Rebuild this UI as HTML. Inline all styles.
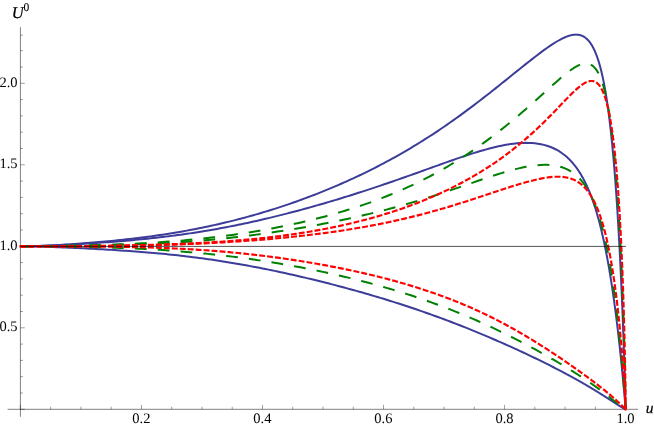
<!DOCTYPE html>
<html><head><meta charset="utf-8"><title>Plot</title>
<style>
html,body{margin:0;padding:0;background:#fff;}
body{width:654px;height:426px;overflow:hidden;}
svg{display:block;will-change:transform;}
text{font-family:"Liberation Serif",serif;fill:#000;}
</style></head><body>
<svg width="654" height="426" viewBox="0 0 654 426">
<rect width="654" height="426" fill="#fff"/>
<g stroke="#000" stroke-width="0.5" fill="none">
<path d="M7.6,409.3 H638.2 M20.4,27.2 V416.8"/>
</g>
<path d="M20.40,409.3 v-4.4 M50.66,409.3 v-2.6 M80.92,409.3 v-2.6 M111.18,409.3 v-2.6 M141.44,409.3 v-4.4 M171.70,409.3 v-2.6 M201.96,409.3 v-2.6 M232.22,409.3 v-2.6 M262.48,409.3 v-4.4 M292.74,409.3 v-2.6 M323.00,409.3 v-2.6 M353.26,409.3 v-2.6 M383.52,409.3 v-4.4 M413.78,409.3 v-2.6 M444.04,409.3 v-2.6 M474.30,409.3 v-2.6 M504.56,409.3 v-4.4 M534.82,409.3 v-2.6 M565.08,409.3 v-2.6 M595.34,409.3 v-2.6 M625.60,409.3 v-4.4 M20.4,409.30 h4.4 M20.4,393.00 h2.6 M20.4,376.70 h2.6 M20.4,360.40 h2.6 M20.4,344.10 h2.6 M20.4,327.80 h4.4 M20.4,311.50 h2.6 M20.4,295.20 h2.6 M20.4,278.90 h2.6 M20.4,262.60 h2.6 M20.4,246.30 h4.4 M20.4,230.00 h2.6 M20.4,213.70 h2.6 M20.4,197.40 h2.6 M20.4,181.10 h2.6 M20.4,164.80 h4.4 M20.4,148.50 h2.6 M20.4,132.20 h2.6 M20.4,115.90 h2.6 M20.4,99.60 h2.6 M20.4,83.30 h4.4 M20.4,67.00 h2.6 M20.4,50.70 h2.6 M20.4,35.20 h2.6" stroke="#000" stroke-width="0.38" fill="none"/>
<path d="M20.40,246.30 L23.43,246.29 L26.45,246.26 L29.48,246.21 L32.50,246.15 L35.53,246.07 L38.56,245.97 L41.58,245.87 L44.61,245.74 L47.63,245.61 L50.66,245.47 L53.69,245.32 L56.71,245.15 L59.74,244.98 L62.76,244.80 L65.79,244.61 L68.82,244.42 L71.84,244.21 L74.87,244.00 L77.89,243.79 L80.92,243.56 L83.95,243.33 L86.97,243.09 L90.00,242.84 L93.02,242.59 L96.05,242.33 L99.08,242.07 L102.10,241.80 L105.13,241.52 L108.15,241.23 L111.18,240.94 L114.21,240.63 L117.23,240.33 L120.26,240.01 L123.28,239.68 L126.31,239.35 L129.34,239.01 L132.36,238.66 L135.39,238.30 L138.41,237.93 L141.44,237.56 L144.47,237.17 L147.49,236.77 L150.52,236.37 L153.54,235.95 L156.57,235.52 L159.60,235.08 L162.62,234.64 L165.65,234.18 L168.67,233.70 L171.70,233.22 L174.73,232.73 L177.75,232.22 L180.78,231.70 L183.80,231.17 L186.83,230.62 L189.86,230.07 L192.88,229.50 L195.91,228.92 L198.93,228.32 L201.96,227.71 L204.99,227.09 L208.01,226.45 L211.04,225.80 L214.06,225.14 L217.09,224.46 L220.12,223.77 L223.14,223.06 L226.17,222.34 L229.19,221.61 L232.22,220.86 L235.25,220.10 L238.27,219.32 L241.30,218.53 L244.32,217.72 L247.35,216.90 L250.38,216.07 L253.40,215.22 L256.43,214.35 L259.45,213.47 L262.48,212.57 L265.51,211.66 L268.53,210.74 L271.56,209.80 L274.58,208.84 L277.61,207.87 L280.64,206.88 L283.66,205.88 L286.69,204.86 L289.71,203.83 L292.74,202.78 L295.77,201.71 L298.79,200.63 L301.82,199.54 L304.84,198.42 L307.87,197.30 L310.90,196.15 L313.92,194.99 L316.95,193.81 L319.97,192.62 L323.00,191.40 L326.03,190.18 L329.05,188.93 L332.08,187.67 L335.10,186.39 L338.13,185.09 L341.16,183.77 L344.18,182.44 L347.21,181.09 L350.23,179.71 L353.26,178.32 L356.29,176.92 L359.31,175.49 L362.34,174.04 L365.36,172.57 L368.39,171.09 L371.42,169.58 L374.44,168.05 L377.47,166.50 L380.49,164.93 L383.52,163.34 L386.55,161.73 L389.57,160.10 L392.60,158.44 L395.62,156.76 L398.65,155.06 L401.68,153.34 L404.70,151.59 L407.73,149.82 L410.75,148.03 L413.78,146.21 L416.81,144.37 L419.83,142.51 L422.86,140.62 L425.88,138.71 L428.91,136.77 L431.94,134.81 L434.96,132.83 L437.99,130.82 L441.01,128.78 L444.04,126.72 L447.07,124.64 L450.09,122.54 L453.12,120.41 L456.14,118.26 L459.17,116.08 L462.20,113.88 L465.22,111.66 L468.25,109.42 L471.27,107.16 L474.30,104.88 L477.33,102.57 L480.35,100.25 L483.38,97.91 L486.40,95.56 L489.43,93.18 L492.46,90.80 L495.48,88.40 L498.51,85.99 L501.53,83.57 L504.56,81.14 L507.59,78.70 L510.61,76.27 L513.64,73.83 L516.66,71.39 L519.69,68.96 L522.72,66.53 L525.74,64.12 L528.77,61.72 L531.79,59.34 L534.82,56.99 L537.85,54.67 L540.87,52.40 L543.90,50.17 L546.92,48.00 L549.95,45.91 L552.98,43.91 L556.00,42.01 L559.03,40.25 L562.05,38.65 L565.08,37.24 L565.38,37.12 L565.69,36.99 L565.99,36.87 L566.29,36.75 L566.59,36.63 L566.90,36.51 L567.20,36.40 L567.50,36.29 L567.80,36.18 L568.11,36.08 L568.41,35.98 L568.71,35.88 L569.01,35.79 L569.32,35.69 L569.62,35.60 L569.92,35.52 L570.22,35.44 L570.53,35.36 L570.83,35.28 L571.13,35.21 L571.43,35.14 L571.74,35.08 L572.04,35.02 L572.34,34.96 L572.64,34.91 L572.95,34.86 L573.25,34.82 L573.55,34.78 L573.86,34.74 L574.16,34.71 L574.46,34.68 L574.76,34.66 L575.07,34.64 L575.37,34.63 L575.67,34.62 L575.97,34.62 L576.28,34.62 L576.58,34.63 L576.88,34.64 L577.18,34.66 L577.49,34.68 L577.79,34.71 L578.09,34.75 L578.39,34.79 L578.70,34.84 L579.00,34.89 L579.30,34.95 L579.60,35.02 L579.91,35.09 L580.21,35.17 L580.51,35.26 L580.82,35.35 L581.12,35.45 L581.42,35.56 L581.72,35.68 L582.03,35.80 L582.33,35.93 L582.63,36.07 L582.93,36.22 L583.24,36.37 L583.54,36.54 L583.84,36.71 L584.14,36.90 L584.45,37.09 L584.75,37.29 L585.05,37.50 L585.35,37.72 L585.66,37.95 L585.96,38.19 L586.26,38.45 L586.56,38.71 L586.87,38.98 L587.17,39.27 L587.47,39.56 L587.77,39.87 L588.08,40.19 L588.38,40.52 L588.68,40.87 L588.99,41.23 L589.29,41.60 L589.59,41.98 L589.89,42.38 L590.20,42.79 L590.50,43.22 L590.80,43.66 L591.10,44.12 L591.41,44.59 L591.71,45.08 L592.01,45.58 L592.31,46.10 L592.62,46.64 L592.92,47.19 L593.22,47.76 L593.52,48.35 L593.83,48.96 L594.13,49.58 L594.43,50.23 L594.73,50.89 L595.04,51.58 L595.34,52.29 L595.64,53.01 L595.95,53.76 L596.25,54.53 L596.55,55.32 L596.85,56.14 L597.16,56.98 L597.46,57.84 L597.76,58.73 L598.06,59.65 L598.37,60.58 L598.67,61.55 L598.97,62.54 L599.27,63.56 L599.58,64.61 L599.88,65.69 L600.18,66.80 L600.48,67.93 L600.79,69.10 L601.09,70.30 L601.39,71.53 L601.69,72.80 L602.00,74.10 L602.30,75.43 L602.60,76.80 L602.91,78.21 L603.21,79.65 L603.51,81.13 L603.81,82.65 L604.12,84.21 L604.42,85.81 L604.72,87.45 L605.02,89.14 L605.33,90.86 L605.63,92.64 L605.93,94.46 L606.23,96.32 L606.54,98.24 L606.84,100.20 L607.14,102.21 L607.44,104.28 L607.75,106.39 L608.05,108.57 L608.35,110.79 L608.65,113.08 L608.96,115.42 L609.26,117.82 L609.56,120.28 L609.86,122.80 L610.17,125.39 L610.47,128.04 L610.77,130.76 L611.08,133.55 L611.38,136.41 L611.68,139.34 L611.98,142.34 L612.29,145.42 L612.59,148.58 L612.89,151.82 L613.19,155.14 L613.50,158.54 L613.53,158.89 L613.56,159.23 L613.59,159.58 L613.62,159.93 L613.65,160.28 L613.68,160.63 L613.71,160.98 L613.74,161.33 L613.77,161.68 L613.80,162.03 L613.83,162.39 L613.86,162.74 L613.89,163.10 L613.92,163.45 L613.95,163.81 L613.98,164.17 L614.01,164.53 L614.04,164.89 L614.07,165.25 L614.10,165.61 L614.13,165.97 L614.16,166.33 L614.19,166.70 L614.22,167.06 L614.25,167.43 L614.28,167.80 L614.31,168.17 L614.34,168.54 L614.37,168.91 L614.40,169.28 L614.43,169.65 L614.46,170.02 L614.49,170.39 L614.52,170.77 L614.56,171.14 L614.59,171.52 L614.62,171.90 L614.65,172.28 L614.68,172.66 L614.71,173.04 L614.74,173.42 L614.77,173.80 L614.80,174.18 L614.83,174.57 L614.86,174.95 L614.89,175.34 L614.92,175.73 L614.95,176.11 L614.98,176.50 L615.01,176.89 L615.04,177.28 L615.07,177.67 L615.10,178.07 L615.13,178.46 L615.16,178.86 L615.19,179.25 L615.22,179.65 L615.25,180.05 L615.28,180.45 L615.31,180.85 L615.34,181.25 L615.37,181.65 L615.40,182.05 L615.43,182.46 L615.46,182.86 L615.49,183.27 L615.52,183.67 L615.55,184.08 L615.58,184.49 L615.61,184.90 L615.64,185.31 L615.67,185.72 L615.70,186.14 L615.74,186.55 L615.77,186.97 L615.80,187.38 L615.83,187.80 L615.86,188.22 L615.89,188.64 L615.92,189.06 L615.95,189.48 L615.98,189.90 L616.01,190.32 L616.04,190.75 L616.07,191.18 L616.10,191.60 L616.13,192.03 L616.16,192.46 L616.19,192.89 L616.22,193.32 L616.25,193.75 L616.28,194.19 L616.31,194.62 L616.34,195.06 L616.37,195.49 L616.40,195.93 L616.43,196.37 L616.46,196.81 L616.49,197.25 L616.52,197.69 L616.55,198.14 L616.58,198.58 L616.61,199.03 L616.64,199.47 L616.67,199.92 L616.70,200.37 L616.73,200.82 L616.76,201.27 L616.79,201.72 L616.82,202.18 L616.85,202.63 L616.89,203.09 L616.92,203.55 L616.95,204.00 L616.98,204.46 L617.01,204.92 L617.04,205.39 L617.07,205.85 L617.10,206.31 L617.13,206.78 L617.16,207.24 L617.19,207.71 L617.22,208.18 L617.25,208.65 L617.28,209.12 L617.31,209.60 L617.34,210.07 L617.37,210.54 L617.40,211.02 L617.43,211.50 L617.46,211.98 L617.49,212.46 L617.52,212.94 L617.55,213.42 L617.58,213.90 L617.61,214.39 L617.64,214.87 L617.67,215.36 L617.70,215.85 L617.73,216.34 L617.76,216.83 L617.79,217.32 L617.82,217.82 L617.85,218.31 L617.88,218.81 L617.91,219.30 L617.94,219.80 L617.97,220.30 L618.00,220.80 L618.04,221.31 L618.07,221.81 L618.10,222.32 L618.13,222.82 L618.16,223.33 L618.19,223.84 L618.22,224.35 L618.25,224.86 L618.28,225.37 L618.31,225.89 L618.34,226.40 L618.37,226.92 L618.40,227.44 L618.43,227.96 L618.46,228.48 L618.49,229.00 L618.52,229.53 L618.55,230.05 L618.58,230.58 L618.61,231.11 L618.64,231.64 L618.67,232.17 L618.70,232.70 L618.73,233.23 L618.76,233.77 L618.79,234.30 L618.82,234.84 L618.85,235.38 L618.88,235.92 L618.91,236.46 L618.94,237.01 L618.97,237.55 L619.00,238.10 L619.03,238.64 L619.06,239.19 L619.09,239.74 L619.12,240.30 L619.15,240.85 L619.18,241.40 L619.22,241.96 L619.25,242.52 L619.28,243.08 L619.31,243.64 L619.34,244.20 L619.37,244.77 L619.40,245.33 L619.43,245.90 L619.46,246.47 L619.49,247.04 L619.52,247.61 L619.55,248.18 L619.58,248.75 L619.61,249.33 L619.64,249.91 L619.67,250.49 L619.70,251.07 L619.73,251.65 L619.76,252.23 L619.79,252.82 L619.82,253.40 L619.85,253.99 L619.88,254.58 L619.91,255.17 L619.94,255.77 L619.97,256.36 L620.00,256.96 L620.03,257.56 L620.06,258.16 L620.09,258.76 L620.12,259.36 L620.15,259.97 L620.18,260.57 L620.21,261.18 L620.24,261.79 L620.27,262.40 L620.30,263.01 L620.33,263.63 L620.37,264.24 L620.40,264.86 L620.43,265.48 L620.46,266.10 L620.49,266.72 L620.52,267.35 L620.55,267.98 L620.58,268.60 L620.61,269.23 L620.64,269.86 L620.67,270.50 L620.70,271.13 L620.73,271.77 L620.76,272.41 L620.79,273.05 L620.82,273.69 L620.85,274.34 L620.88,274.98 L620.91,275.63 L620.94,276.28 L620.97,276.93 L621.00,277.58 L621.03,278.24 L621.06,278.89 L621.09,279.55 L621.12,280.21 L621.15,280.87 L621.18,281.54 L621.21,282.20 L621.24,282.87 L621.27,283.54 L621.30,284.21 L621.33,284.89 L621.36,285.56 L621.39,286.24 L621.42,286.92 L621.45,287.60 L621.48,288.29 L621.51,288.97 L621.55,289.66 L621.58,290.35 L621.61,291.04 L621.64,291.73 L621.67,292.43 L621.70,293.13 L621.73,293.82 L621.76,294.53 L621.79,295.23 L621.82,295.94 L621.85,296.64 L621.88,297.35 L621.91,298.06 L621.94,298.78 L621.97,299.49 L622.00,300.21 L622.03,300.93 L622.06,301.66 L622.09,302.38 L622.12,303.11 L622.15,303.84 L622.18,304.57 L622.21,305.30 L622.24,306.04 L622.27,306.78 L622.30,307.52 L622.33,308.26 L622.36,309.00 L622.39,309.75 L622.42,310.50 L622.45,311.25 L622.48,312.01 L622.51,312.76 L622.54,313.52 L622.57,314.28 L622.60,315.05 L622.63,315.81 L622.66,316.58 L622.70,317.35 L622.73,318.12 L622.76,318.90 L622.79,319.68 L622.82,320.46 L622.85,321.24 L622.88,322.03 L622.91,322.82 L622.94,323.61 L622.97,324.40 L623.00,325.20 L623.03,325.99 L623.06,326.80 L623.09,327.60 L623.12,328.41 L623.15,329.22 L623.18,330.03 L623.21,330.84 L623.24,331.66 L623.27,332.48 L623.30,333.31 L623.33,334.13 L623.36,334.96 L623.39,335.79 L623.42,336.63 L623.45,337.47 L623.48,338.31 L623.51,339.15 L623.54,340.00 L623.57,340.85 L623.60,341.70 L623.63,342.56 L623.66,343.42 L623.69,344.28 L623.72,345.14 L623.75,346.01 L623.78,346.88 L623.81,347.76 L623.84,348.64 L623.88,349.52 L623.91,350.41 L623.94,351.30 L623.97,352.19 L624.00,353.09 L624.03,353.99 L624.06,354.89 L624.09,355.80 L624.12,356.71 L624.15,357.62 L624.18,358.54 L624.21,359.46 L624.24,360.39 L624.27,361.32 L624.30,362.26 L624.33,363.20 L624.36,364.14 L624.39,365.09 L624.42,366.04 L624.45,367.00 L624.48,367.96 L624.51,368.92 L624.54,369.89 L624.57,370.87 L624.60,371.85 L624.63,372.83 L624.66,373.82 L624.69,374.82 L624.72,375.82 L624.75,376.83 L624.78,377.84 L624.81,378.86 L624.84,379.89 L624.87,380.92 L624.90,381.96 L624.93,383.00 L624.96,384.05 L624.99,385.11 L625.03,386.18 L625.06,387.25 L625.09,388.34 L625.12,389.43 L625.15,390.53 L625.18,391.64 L625.21,392.76 L625.24,393.89 L625.27,395.04 L625.30,396.19 L625.33,397.37 L625.36,398.55 L625.39,399.76 L625.42,400.99 L625.45,402.23 L625.48,403.51 L625.51,404.83 L625.54,406.19 L625.57,407.63 L625.60,409.30" fill="none" stroke="#3d3d99" stroke-width="2.0"/>
<path d="M20.40,246.30 L23.43,246.29 L26.45,246.26 L29.48,246.22 L32.50,246.16 L35.53,246.09 L38.56,246.00 L41.58,245.91 L44.61,245.80 L47.63,245.69 L50.66,245.56 L53.69,245.43 L56.71,245.29 L59.74,245.15 L62.76,244.99 L65.79,244.84 L68.82,244.68 L71.84,244.51 L74.87,244.34 L77.89,244.16 L80.92,243.98 L83.95,243.79 L86.97,243.60 L90.00,243.40 L93.02,243.21 L96.05,243.00 L99.08,242.79 L102.10,242.58 L105.13,242.36 L108.15,242.14 L111.18,241.91 L114.21,241.67 L117.23,241.43 L120.26,241.19 L123.28,240.93 L126.31,240.68 L129.34,240.41 L132.36,240.14 L135.39,239.86 L138.41,239.57 L141.44,239.28 L144.47,238.98 L147.49,238.67 L150.52,238.35 L153.54,238.02 L156.57,237.69 L159.60,237.34 L162.62,236.99 L165.65,236.62 L168.67,236.25 L171.70,235.87 L174.73,235.48 L177.75,235.08 L180.78,234.66 L183.80,234.24 L186.83,233.81 L189.86,233.37 L192.88,232.91 L195.91,232.45 L198.93,231.97 L201.96,231.49 L204.99,230.99 L208.01,230.48 L211.04,229.97 L214.06,229.44 L217.09,228.90 L220.12,228.35 L223.14,227.79 L226.17,227.21 L229.19,226.63 L232.22,226.04 L235.25,225.43 L238.27,224.82 L241.30,224.19 L244.32,223.56 L247.35,222.91 L250.38,222.25 L253.40,221.59 L256.43,220.91 L259.45,220.22 L262.48,219.53 L265.51,218.82 L268.53,218.11 L271.56,217.38 L274.58,216.64 L277.61,215.90 L280.64,215.15 L283.66,214.38 L286.69,213.61 L289.71,212.83 L292.74,212.04 L295.77,211.24 L298.79,210.43 L301.82,209.62 L304.84,208.79 L307.87,207.96 L310.90,207.12 L313.92,206.27 L316.95,205.41 L319.97,204.54 L323.00,203.67 L326.03,202.79 L329.05,201.90 L332.08,201.00 L335.10,200.09 L338.13,199.18 L341.16,198.26 L344.18,197.33 L347.21,196.39 L350.23,195.44 L353.26,194.49 L356.29,193.53 L359.31,192.56 L362.34,191.59 L365.36,190.61 L368.39,189.62 L371.42,188.62 L374.44,187.62 L377.47,186.61 L380.49,185.59 L383.52,184.57 L386.55,183.54 L389.57,182.50 L392.60,181.46 L395.62,180.41 L398.65,179.36 L401.68,178.30 L404.70,177.23 L407.73,176.17 L410.75,175.09 L413.78,174.02 L416.81,172.94 L419.83,171.85 L422.86,170.77 L425.88,169.68 L428.91,168.59 L431.94,167.51 L434.96,166.42 L437.99,165.34 L441.01,164.26 L444.04,163.18 L447.07,162.10 L450.09,161.04 L453.12,159.98 L456.14,158.93 L459.17,157.89 L462.20,156.86 L465.22,155.85 L468.25,154.85 L471.27,153.87 L474.30,152.92 L477.33,151.98 L480.35,151.07 L483.38,150.19 L486.40,149.34 L489.43,148.52 L492.46,147.74 L495.48,147.00 L498.51,146.31 L501.53,145.67 L504.56,145.07 L507.59,144.54 L510.61,144.07 L513.64,143.66 L516.66,143.33 L519.69,143.08 L522.72,142.92 L525.74,142.85 L528.77,142.88 L531.79,143.01 L534.82,143.27 L537.85,143.66 L540.87,144.19 L543.90,144.88 L546.92,145.73 L549.95,146.77 L552.98,148.02 L556.00,149.49 L559.03,151.21 L562.05,153.21 L565.08,155.53 L565.38,155.78 L565.69,156.03 L565.99,156.29 L566.29,156.55 L566.59,156.81 L566.90,157.08 L567.20,157.35 L567.50,157.63 L567.80,157.91 L568.11,158.19 L568.41,158.48 L568.71,158.77 L569.01,159.07 L569.32,159.37 L569.62,159.67 L569.92,159.98 L570.22,160.29 L570.53,160.61 L570.83,160.93 L571.13,161.25 L571.43,161.58 L571.74,161.92 L572.04,162.25 L572.34,162.60 L572.64,162.95 L572.95,163.30 L573.25,163.66 L573.55,164.02 L573.86,164.39 L574.16,164.76 L574.46,165.14 L574.76,165.52 L575.07,165.91 L575.37,166.30 L575.67,166.70 L575.97,167.10 L576.28,167.51 L576.58,167.93 L576.88,168.35 L577.18,168.77 L577.49,169.20 L577.79,169.64 L578.09,170.08 L578.39,170.53 L578.70,170.99 L579.00,171.45 L579.30,171.92 L579.60,172.39 L579.91,172.87 L580.21,173.36 L580.51,173.86 L580.82,174.36 L581.12,174.86 L581.42,175.38 L581.72,175.90 L582.03,176.43 L582.33,176.96 L582.63,177.50 L582.93,178.05 L583.24,178.61 L583.54,179.18 L583.84,179.75 L584.14,180.33 L584.45,180.92 L584.75,181.51 L585.05,182.12 L585.35,182.73 L585.66,183.35 L585.96,183.98 L586.26,184.61 L586.56,185.26 L586.87,185.91 L587.17,186.58 L587.47,187.25 L587.77,187.93 L588.08,188.62 L588.38,189.32 L588.68,190.03 L588.99,190.75 L589.29,191.48 L589.59,192.22 L589.89,192.96 L590.20,193.72 L590.50,194.49 L590.80,195.27 L591.10,196.06 L591.41,196.86 L591.71,197.67 L592.01,198.49 L592.31,199.33 L592.62,200.17 L592.92,201.03 L593.22,201.90 L593.52,202.78 L593.83,203.67 L594.13,204.57 L594.43,205.49 L594.73,206.42 L595.04,207.36 L595.34,208.31 L595.64,209.28 L595.95,210.26 L596.25,211.25 L596.55,212.26 L596.85,213.28 L597.16,214.31 L597.46,215.36 L597.76,216.42 L598.06,217.50 L598.37,218.59 L598.67,219.70 L598.97,220.82 L599.27,221.95 L599.58,223.11 L599.88,224.27 L600.18,225.46 L600.48,226.66 L600.79,227.87 L601.09,229.10 L601.39,230.35 L601.69,231.62 L602.00,232.90 L602.30,234.20 L602.60,235.52 L602.91,236.85 L603.21,238.21 L603.51,239.58 L603.81,240.97 L604.12,242.38 L604.42,243.80 L604.72,245.25 L605.02,246.72 L605.33,248.20 L605.63,249.71 L605.93,251.24 L606.23,252.78 L606.54,254.35 L606.84,255.94 L607.14,257.55 L607.44,259.18 L607.75,260.83 L608.05,262.51 L608.35,264.20 L608.65,265.92 L608.96,267.67 L609.26,269.43 L609.56,271.22 L609.86,273.03 L610.17,274.87 L610.47,276.73 L610.77,278.62 L611.08,280.53 L611.38,282.46 L611.68,284.42 L611.98,286.41 L612.29,288.42 L612.59,290.46 L612.89,292.52 L613.19,294.62 L613.50,296.74 L613.53,296.95 L613.56,297.16 L613.59,297.38 L613.62,297.59 L613.65,297.81 L613.68,298.02 L613.71,298.24 L613.74,298.45 L613.77,298.67 L613.80,298.88 L613.83,299.10 L613.86,299.32 L613.89,299.53 L613.92,299.75 L613.95,299.97 L613.98,300.18 L614.01,300.40 L614.04,300.62 L614.07,300.84 L614.10,301.06 L614.13,301.28 L614.16,301.50 L614.19,301.72 L614.22,301.94 L614.25,302.16 L614.28,302.38 L614.31,302.60 L614.34,302.82 L614.37,303.04 L614.40,303.26 L614.43,303.48 L614.46,303.70 L614.49,303.93 L614.52,304.15 L614.56,304.37 L614.59,304.60 L614.62,304.82 L614.65,305.04 L614.68,305.27 L614.71,305.49 L614.74,305.72 L614.77,305.94 L614.80,306.17 L614.83,306.39 L614.86,306.62 L614.89,306.84 L614.92,307.07 L614.95,307.30 L614.98,307.52 L615.01,307.75 L615.04,307.98 L615.07,308.21 L615.10,308.44 L615.13,308.66 L615.16,308.89 L615.19,309.12 L615.22,309.35 L615.25,309.58 L615.28,309.81 L615.31,310.04 L615.34,310.27 L615.37,310.50 L615.40,310.73 L615.43,310.97 L615.46,311.20 L615.49,311.43 L615.52,311.66 L615.55,311.89 L615.58,312.13 L615.61,312.36 L615.64,312.59 L615.67,312.83 L615.70,313.06 L615.74,313.30 L615.77,313.53 L615.80,313.77 L615.83,314.00 L615.86,314.24 L615.89,314.47 L615.92,314.71 L615.95,314.95 L615.98,315.18 L616.01,315.42 L616.04,315.66 L616.07,315.90 L616.10,316.13 L616.13,316.37 L616.16,316.61 L616.19,316.85 L616.22,317.09 L616.25,317.33 L616.28,317.57 L616.31,317.81 L616.34,318.05 L616.37,318.29 L616.40,318.53 L616.43,318.77 L616.46,319.01 L616.49,319.26 L616.52,319.50 L616.55,319.74 L616.58,319.98 L616.61,320.23 L616.64,320.47 L616.67,320.72 L616.70,320.96 L616.73,321.20 L616.76,321.45 L616.79,321.69 L616.82,321.94 L616.85,322.19 L616.89,322.43 L616.92,322.68 L616.95,322.92 L616.98,323.17 L617.01,323.42 L617.04,323.67 L617.07,323.92 L617.10,324.16 L617.13,324.41 L617.16,324.66 L617.19,324.91 L617.22,325.16 L617.25,325.41 L617.28,325.66 L617.31,325.91 L617.34,326.16 L617.37,326.41 L617.40,326.66 L617.43,326.92 L617.46,327.17 L617.49,327.42 L617.52,327.67 L617.55,327.93 L617.58,328.18 L617.61,328.43 L617.64,328.69 L617.67,328.94 L617.70,329.20 L617.73,329.45 L617.76,329.71 L617.79,329.96 L617.82,330.22 L617.85,330.48 L617.88,330.73 L617.91,330.99 L617.94,331.25 L617.97,331.50 L618.00,331.76 L618.04,332.02 L618.07,332.28 L618.10,332.54 L618.13,332.80 L618.16,333.06 L618.19,333.32 L618.22,333.58 L618.25,333.84 L618.28,334.10 L618.31,334.36 L618.34,334.62 L618.37,334.88 L618.40,335.15 L618.43,335.41 L618.46,335.67 L618.49,335.93 L618.52,336.20 L618.55,336.46 L618.58,336.73 L618.61,336.99 L618.64,337.26 L618.67,337.52 L618.70,337.79 L618.73,338.05 L618.76,338.32 L618.79,338.59 L618.82,338.85 L618.85,339.12 L618.88,339.39 L618.91,339.66 L618.94,339.92 L618.97,340.19 L619.00,340.46 L619.03,340.73 L619.06,341.00 L619.09,341.27 L619.12,341.54 L619.15,341.81 L619.18,342.08 L619.22,342.36 L619.25,342.63 L619.28,342.90 L619.31,343.17 L619.34,343.44 L619.37,343.72 L619.40,343.99 L619.43,344.27 L619.46,344.54 L619.49,344.81 L619.52,345.09 L619.55,345.36 L619.58,345.64 L619.61,345.92 L619.64,346.19 L619.67,346.47 L619.70,346.75 L619.73,347.02 L619.76,347.30 L619.79,347.58 L619.82,347.86 L619.85,348.14 L619.88,348.42 L619.91,348.70 L619.94,348.98 L619.97,349.26 L620.00,349.54 L620.03,349.82 L620.06,350.10 L620.09,350.38 L620.12,350.66 L620.15,350.95 L620.18,351.23 L620.21,351.51 L620.24,351.80 L620.27,352.08 L620.30,352.36 L620.33,352.65 L620.37,352.93 L620.40,353.22 L620.43,353.51 L620.46,353.79 L620.49,354.08 L620.52,354.36 L620.55,354.65 L620.58,354.94 L620.61,355.23 L620.64,355.52 L620.67,355.80 L620.70,356.09 L620.73,356.38 L620.76,356.67 L620.79,356.96 L620.82,357.25 L620.85,357.55 L620.88,357.84 L620.91,358.13 L620.94,358.42 L620.97,358.71 L621.00,359.01 L621.03,359.30 L621.06,359.59 L621.09,359.89 L621.12,360.18 L621.15,360.48 L621.18,360.77 L621.21,361.07 L621.24,361.36 L621.27,361.66 L621.30,361.96 L621.33,362.25 L621.36,362.55 L621.39,362.85 L621.42,363.15 L621.45,363.45 L621.48,363.75 L621.51,364.05 L621.55,364.35 L621.58,364.65 L621.61,364.95 L621.64,365.25 L621.67,365.55 L621.70,365.85 L621.73,366.15 L621.76,366.46 L621.79,366.76 L621.82,367.06 L621.85,367.37 L621.88,367.67 L621.91,367.98 L621.94,368.28 L621.97,368.59 L622.00,368.90 L622.03,369.20 L622.06,369.51 L622.09,369.82 L622.12,370.12 L622.15,370.43 L622.18,370.74 L622.21,371.05 L622.24,371.36 L622.27,371.67 L622.30,371.98 L622.33,372.29 L622.36,372.60 L622.39,372.91 L622.42,373.23 L622.45,373.54 L622.48,373.85 L622.51,374.16 L622.54,374.48 L622.57,374.79 L622.60,375.11 L622.63,375.42 L622.66,375.74 L622.70,376.05 L622.73,376.37 L622.76,376.69 L622.79,377.00 L622.82,377.32 L622.85,377.64 L622.88,377.96 L622.91,378.28 L622.94,378.60 L622.97,378.92 L623.00,379.24 L623.03,379.56 L623.06,379.88 L623.09,380.20 L623.12,380.53 L623.15,380.85 L623.18,381.17 L623.21,381.50 L623.24,381.82 L623.27,382.15 L623.30,382.47 L623.33,382.80 L623.36,383.12 L623.39,383.45 L623.42,383.78 L623.45,384.11 L623.48,384.44 L623.51,384.76 L623.54,385.09 L623.57,385.42 L623.60,385.75 L623.63,386.09 L623.66,386.42 L623.69,386.75 L623.72,387.08 L623.75,387.42 L623.78,387.75 L623.81,388.08 L623.84,388.42 L623.88,388.75 L623.91,389.09 L623.94,389.43 L623.97,389.76 L624.00,390.10 L624.03,390.44 L624.06,390.78 L624.09,391.12 L624.12,391.46 L624.15,391.80 L624.18,392.14 L624.21,392.48 L624.24,392.83 L624.27,393.17 L624.30,393.51 L624.33,393.86 L624.36,394.20 L624.39,394.55 L624.42,394.90 L624.45,395.24 L624.48,395.59 L624.51,395.94 L624.54,396.29 L624.57,396.64 L624.60,396.99 L624.63,397.34 L624.66,397.70 L624.69,398.05 L624.72,398.40 L624.75,398.76 L624.78,399.12 L624.81,399.47 L624.84,399.83 L624.87,400.19 L624.90,400.55 L624.93,400.91 L624.96,401.27 L624.99,401.63 L625.03,402.00 L625.06,402.36 L625.09,402.73 L625.12,403.10 L625.15,403.47 L625.18,403.84 L625.21,404.21 L625.24,404.58 L625.27,404.96 L625.30,405.33 L625.33,405.71 L625.36,406.09 L625.39,406.48 L625.42,406.86 L625.45,407.25 L625.48,407.64 L625.51,408.04 L625.54,408.45 L625.57,408.86 L625.60,409.30" fill="none" stroke="#3d3d99" stroke-width="2.0"/>
<path d="M20.40,246.30 L23.43,246.31 L26.45,246.33 L29.48,246.37 L32.50,246.42 L35.53,246.48 L38.56,246.55 L41.58,246.63 L44.61,246.72 L47.63,246.82 L50.66,246.92 L53.69,247.03 L56.71,247.15 L59.74,247.27 L62.76,247.39 L65.79,247.52 L68.82,247.66 L71.84,247.79 L74.87,247.93 L77.89,248.08 L80.92,248.22 L83.95,248.37 L86.97,248.53 L90.00,248.68 L93.02,248.84 L96.05,249.01 L99.08,249.17 L102.10,249.34 L105.13,249.51 L108.15,249.69 L111.18,249.87 L114.21,250.06 L117.23,250.25 L120.26,250.44 L123.28,250.64 L126.31,250.85 L129.34,251.06 L132.36,251.27 L135.39,251.49 L138.41,251.72 L141.44,251.95 L144.47,252.20 L147.49,252.44 L150.52,252.70 L153.54,252.96 L156.57,253.23 L159.60,253.51 L162.62,253.80 L165.65,254.09 L168.67,254.39 L171.70,254.70 L174.73,255.02 L177.75,255.35 L180.78,255.69 L183.80,256.04 L186.83,256.39 L189.86,256.76 L192.88,257.14 L195.91,257.52 L198.93,257.92 L201.96,258.32 L204.99,258.73 L208.01,259.16 L211.04,259.59 L214.06,260.04 L217.09,260.49 L220.12,260.95 L223.14,261.42 L226.17,261.91 L229.19,262.40 L232.22,262.90 L235.25,263.41 L238.27,263.93 L241.30,264.46 L244.32,265.00 L247.35,265.55 L250.38,266.11 L253.40,266.68 L256.43,267.25 L259.45,267.84 L262.48,268.43 L265.51,269.03 L268.53,269.64 L271.56,270.26 L274.58,270.89 L277.61,271.53 L280.64,272.18 L283.66,272.83 L286.69,273.49 L289.71,274.16 L292.74,274.84 L295.77,275.52 L298.79,276.22 L301.82,276.92 L304.84,277.63 L307.87,278.35 L310.90,279.07 L313.92,279.80 L316.95,280.54 L319.97,281.29 L323.00,282.05 L326.03,282.81 L329.05,283.58 L332.08,284.36 L335.10,285.15 L338.13,285.94 L341.16,286.74 L344.18,287.55 L347.21,288.37 L350.23,289.20 L353.26,290.03 L356.29,290.87 L359.31,291.72 L362.34,292.58 L365.36,293.45 L368.39,294.32 L371.42,295.21 L374.44,296.10 L377.47,297.00 L380.49,297.91 L383.52,298.83 L386.55,299.76 L389.57,300.69 L392.60,301.64 L395.62,302.60 L398.65,303.56 L401.68,304.54 L404.70,305.53 L407.73,306.52 L410.75,307.53 L413.78,308.54 L416.81,309.57 L419.83,310.61 L422.86,311.65 L425.88,312.71 L428.91,313.78 L431.94,314.86 L434.96,315.95 L437.99,317.05 L441.01,318.16 L444.04,319.28 L447.07,320.41 L450.09,321.55 L453.12,322.71 L456.14,323.87 L459.17,325.05 L462.20,326.24 L465.22,327.44 L468.25,328.65 L471.27,329.87 L474.30,331.10 L477.33,332.34 L480.35,333.59 L483.38,334.85 L486.40,336.13 L489.43,337.41 L492.46,338.71 L495.48,340.01 L498.51,341.33 L501.53,342.66 L504.56,344.00 L507.59,345.35 L510.61,346.71 L513.64,348.08 L516.66,349.46 L519.69,350.85 L522.72,352.26 L525.74,353.67 L528.77,355.10 L531.79,356.54 L534.82,357.99 L537.85,359.46 L540.87,360.94 L543.90,362.43 L546.92,363.93 L549.95,365.45 L552.98,366.99 L556.00,368.54 L559.03,370.11 L562.05,371.69 L565.08,373.30 L565.38,373.46 L565.69,373.62 L565.99,373.78 L566.29,373.94 L566.59,374.11 L566.90,374.27 L567.20,374.43 L567.50,374.59 L567.80,374.76 L568.11,374.92 L568.41,375.08 L568.71,375.25 L569.01,375.41 L569.32,375.57 L569.62,375.74 L569.92,375.90 L570.22,376.07 L570.53,376.23 L570.83,376.40 L571.13,376.56 L571.43,376.73 L571.74,376.89 L572.04,377.06 L572.34,377.23 L572.64,377.39 L572.95,377.56 L573.25,377.72 L573.55,377.89 L573.86,378.06 L574.16,378.23 L574.46,378.39 L574.76,378.56 L575.07,378.73 L575.37,378.90 L575.67,379.07 L575.97,379.24 L576.28,379.40 L576.58,379.57 L576.88,379.74 L577.18,379.91 L577.49,380.08 L577.79,380.25 L578.09,380.42 L578.39,380.59 L578.70,380.76 L579.00,380.93 L579.30,381.11 L579.60,381.28 L579.91,381.45 L580.21,381.62 L580.51,381.79 L580.82,381.97 L581.12,382.14 L581.42,382.31 L581.72,382.48 L582.03,382.66 L582.33,382.83 L582.63,383.01 L582.93,383.18 L583.24,383.35 L583.54,383.53 L583.84,383.70 L584.14,383.88 L584.45,384.05 L584.75,384.23 L585.05,384.41 L585.35,384.58 L585.66,384.76 L585.96,384.94 L586.26,385.11 L586.56,385.29 L586.87,385.47 L587.17,385.64 L587.47,385.82 L587.77,386.00 L588.08,386.18 L588.38,386.36 L588.68,386.54 L588.99,386.72 L589.29,386.90 L589.59,387.08 L589.89,387.26 L590.20,387.44 L590.50,387.62 L590.80,387.80 L591.10,387.98 L591.41,388.16 L591.71,388.34 L592.01,388.52 L592.31,388.71 L592.62,388.89 L592.92,389.07 L593.22,389.25 L593.52,389.44 L593.83,389.62 L594.13,389.80 L594.43,389.99 L594.73,390.17 L595.04,390.36 L595.34,390.54 L595.64,390.73 L595.95,390.91 L596.25,391.10 L596.55,391.28 L596.85,391.47 L597.16,391.66 L597.46,391.84 L597.76,392.03 L598.06,392.22 L598.37,392.41 L598.67,392.59 L598.97,392.78 L599.27,392.97 L599.58,393.16 L599.88,393.35 L600.18,393.54 L600.48,393.72 L600.79,393.91 L601.09,394.10 L601.39,394.29 L601.69,394.48 L602.00,394.67 L602.30,394.86 L602.60,395.06 L602.91,395.25 L603.21,395.44 L603.51,395.63 L603.81,395.82 L604.12,396.01 L604.42,396.21 L604.72,396.40 L605.02,396.59 L605.33,396.78 L605.63,396.98 L605.93,397.17 L606.23,397.36 L606.54,397.56 L606.84,397.75 L607.14,397.95 L607.44,398.14 L607.75,398.33 L608.05,398.53 L608.35,398.72 L608.65,398.92 L608.96,399.11 L609.26,399.31 L609.56,399.50 L609.86,399.70 L610.17,399.89 L610.47,400.09 L610.77,400.28 L611.08,400.48 L611.38,400.68 L611.68,400.87 L611.98,401.07 L612.29,401.26 L612.59,401.46 L612.89,401.65 L613.19,401.85 L613.50,402.05 L613.53,402.07 L613.56,402.09 L613.59,402.11 L613.62,402.12 L613.65,402.14 L613.68,402.16 L613.71,402.18 L613.74,402.20 L613.77,402.22 L613.80,402.24 L613.83,402.26 L613.86,402.28 L613.89,402.30 L613.92,402.32 L613.95,402.34 L613.98,402.36 L614.01,402.38 L614.04,402.40 L614.07,402.42 L614.10,402.44 L614.13,402.46 L614.16,402.48 L614.19,402.50 L614.22,402.52 L614.25,402.54 L614.28,402.56 L614.31,402.57 L614.34,402.59 L614.37,402.61 L614.40,402.63 L614.43,402.65 L614.46,402.67 L614.49,402.69 L614.52,402.71 L614.56,402.73 L614.59,402.75 L614.62,402.77 L614.65,402.79 L614.68,402.81 L614.71,402.83 L614.74,402.85 L614.77,402.87 L614.80,402.89 L614.83,402.91 L614.86,402.93 L614.89,402.95 L614.92,402.97 L614.95,402.99 L614.98,403.00 L615.01,403.02 L615.04,403.04 L615.07,403.06 L615.10,403.08 L615.13,403.10 L615.16,403.12 L615.19,403.14 L615.22,403.16 L615.25,403.18 L615.28,403.20 L615.31,403.22 L615.34,403.24 L615.37,403.26 L615.40,403.28 L615.43,403.30 L615.46,403.32 L615.49,403.34 L615.52,403.36 L615.55,403.38 L615.58,403.39 L615.61,403.41 L615.64,403.43 L615.67,403.45 L615.70,403.47 L615.74,403.49 L615.77,403.51 L615.80,403.53 L615.83,403.55 L615.86,403.57 L615.89,403.59 L615.92,403.61 L615.95,403.63 L615.98,403.65 L616.01,403.67 L616.04,403.69 L616.07,403.71 L616.10,403.73 L616.13,403.75 L616.16,403.76 L616.19,403.78 L616.22,403.80 L616.25,403.82 L616.28,403.84 L616.31,403.86 L616.34,403.88 L616.37,403.90 L616.40,403.92 L616.43,403.94 L616.46,403.96 L616.49,403.98 L616.52,404.00 L616.55,404.02 L616.58,404.04 L616.61,404.06 L616.64,404.08 L616.67,404.10 L616.70,404.11 L616.73,404.13 L616.76,404.15 L616.79,404.17 L616.82,404.19 L616.85,404.21 L616.89,404.23 L616.92,404.25 L616.95,404.27 L616.98,404.29 L617.01,404.31 L617.04,404.33 L617.07,404.35 L617.10,404.37 L617.13,404.39 L617.16,404.40 L617.19,404.42 L617.22,404.44 L617.25,404.46 L617.28,404.48 L617.31,404.50 L617.34,404.52 L617.37,404.54 L617.40,404.56 L617.43,404.58 L617.46,404.60 L617.49,404.62 L617.52,404.64 L617.55,404.66 L617.58,404.68 L617.61,404.69 L617.64,404.71 L617.67,404.73 L617.70,404.75 L617.73,404.77 L617.76,404.79 L617.79,404.81 L617.82,404.83 L617.85,404.85 L617.88,404.87 L617.91,404.89 L617.94,404.91 L617.97,404.93 L618.00,404.95 L618.04,404.96 L618.07,404.98 L618.10,405.00 L618.13,405.02 L618.16,405.04 L618.19,405.06 L618.22,405.08 L618.25,405.10 L618.28,405.12 L618.31,405.14 L618.34,405.16 L618.37,405.18 L618.40,405.19 L618.43,405.21 L618.46,405.23 L618.49,405.25 L618.52,405.27 L618.55,405.29 L618.58,405.31 L618.61,405.33 L618.64,405.35 L618.67,405.37 L618.70,405.39 L618.73,405.41 L618.76,405.42 L618.79,405.44 L618.82,405.46 L618.85,405.48 L618.88,405.50 L618.91,405.52 L618.94,405.54 L618.97,405.56 L619.00,405.58 L619.03,405.60 L619.06,405.61 L619.09,405.63 L619.12,405.65 L619.15,405.67 L619.18,405.69 L619.22,405.71 L619.25,405.73 L619.28,405.75 L619.31,405.77 L619.34,405.79 L619.37,405.80 L619.40,405.82 L619.43,405.84 L619.46,405.86 L619.49,405.88 L619.52,405.90 L619.55,405.92 L619.58,405.94 L619.61,405.96 L619.64,405.98 L619.67,405.99 L619.70,406.01 L619.73,406.03 L619.76,406.05 L619.79,406.07 L619.82,406.09 L619.85,406.11 L619.88,406.13 L619.91,406.14 L619.94,406.16 L619.97,406.18 L620.00,406.20 L620.03,406.22 L620.06,406.24 L620.09,406.26 L620.12,406.28 L620.15,406.30 L620.18,406.31 L620.21,406.33 L620.24,406.35 L620.27,406.37 L620.30,406.39 L620.33,406.41 L620.37,406.43 L620.40,406.44 L620.43,406.46 L620.46,406.48 L620.49,406.50 L620.52,406.52 L620.55,406.54 L620.58,406.56 L620.61,406.58 L620.64,406.59 L620.67,406.61 L620.70,406.63 L620.73,406.65 L620.76,406.67 L620.79,406.69 L620.82,406.71 L620.85,406.72 L620.88,406.74 L620.91,406.76 L620.94,406.78 L620.97,406.80 L621.00,406.82 L621.03,406.83 L621.06,406.85 L621.09,406.87 L621.12,406.89 L621.15,406.91 L621.18,406.93 L621.21,406.94 L621.24,406.96 L621.27,406.98 L621.30,407.00 L621.33,407.02 L621.36,407.04 L621.39,407.05 L621.42,407.07 L621.45,407.09 L621.48,407.11 L621.51,407.13 L621.55,407.15 L621.58,407.16 L621.61,407.18 L621.64,407.20 L621.67,407.22 L621.70,407.24 L621.73,407.25 L621.76,407.27 L621.79,407.29 L621.82,407.31 L621.85,407.33 L621.88,407.35 L621.91,407.36 L621.94,407.38 L621.97,407.40 L622.00,407.42 L622.03,407.44 L622.06,407.45 L622.09,407.47 L622.12,407.49 L622.15,407.51 L622.18,407.52 L622.21,407.54 L622.24,407.56 L622.27,407.58 L622.30,407.60 L622.33,407.61 L622.36,407.63 L622.39,407.65 L622.42,407.67 L622.45,407.68 L622.48,407.70 L622.51,407.72 L622.54,407.74 L622.57,407.76 L622.60,407.77 L622.63,407.79 L622.66,407.81 L622.70,407.83 L622.73,407.84 L622.76,407.86 L622.79,407.88 L622.82,407.90 L622.85,407.91 L622.88,407.93 L622.91,407.95 L622.94,407.97 L622.97,407.98 L623.00,408.00 L623.03,408.02 L623.06,408.03 L623.09,408.05 L623.12,408.07 L623.15,408.09 L623.18,408.10 L623.21,408.12 L623.24,408.14 L623.27,408.15 L623.30,408.17 L623.33,408.19 L623.36,408.21 L623.39,408.22 L623.42,408.24 L623.45,408.26 L623.48,408.27 L623.51,408.29 L623.54,408.31 L623.57,408.32 L623.60,408.34 L623.63,408.36 L623.66,408.37 L623.69,408.39 L623.72,408.41 L623.75,408.42 L623.78,408.44 L623.81,408.46 L623.84,408.47 L623.88,408.49 L623.91,408.51 L623.94,408.52 L623.97,408.54 L624.00,408.55 L624.03,408.57 L624.06,408.59 L624.09,408.60 L624.12,408.62 L624.15,408.63 L624.18,408.65 L624.21,408.67 L624.24,408.68 L624.27,408.70 L624.30,408.71 L624.33,408.73 L624.36,408.74 L624.39,408.76 L624.42,408.78 L624.45,408.79 L624.48,408.81 L624.51,408.82 L624.54,408.84 L624.57,408.85 L624.60,408.87 L624.63,408.88 L624.66,408.90 L624.69,408.91 L624.72,408.93 L624.75,408.94 L624.78,408.96 L624.81,408.97 L624.84,408.99 L624.87,409.00 L624.90,409.02 L624.93,409.03 L624.96,409.04 L624.99,409.06 L625.03,409.07 L625.06,409.09 L625.09,409.10 L625.12,409.11 L625.15,409.13 L625.18,409.14 L625.21,409.15 L625.24,409.17 L625.27,409.18 L625.30,409.19 L625.33,409.20 L625.36,409.22 L625.39,409.23 L625.42,409.24 L625.45,409.25 L625.48,409.26 L625.51,409.27 L625.54,409.28 L625.57,409.29 L625.60,409.30" fill="none" stroke="#3d3d99" stroke-width="2.0"/>
<path d="M20.40,246.30 L23.43,246.30 L26.45,246.29 L29.48,246.28 L32.50,246.26 L35.53,246.24 L38.56,246.21 L41.58,246.19 L44.61,246.15 L47.63,246.12 L50.66,246.08 L53.69,246.04 L56.71,245.99 L59.74,245.95 L62.76,245.90 L65.79,245.85 L68.82,245.79 L71.84,245.73 L74.87,245.67 L77.89,245.61 L80.92,245.54 L83.95,245.47 L86.97,245.40 L90.00,245.32 L93.02,245.24 L96.05,245.16 L99.08,245.07 L102.10,244.98 L105.13,244.88 L108.15,244.78 L111.18,244.68 L114.21,244.57 L117.23,244.46 L120.26,244.34 L123.28,244.21 L126.31,244.08 L129.34,243.95 L132.36,243.81 L135.39,243.66 L138.41,243.51 L141.44,243.35 L144.47,243.19 L147.49,243.01 L150.52,242.84 L153.54,242.65 L156.57,242.46 L159.60,242.26 L162.62,242.05 L165.65,241.84 L168.67,241.61 L171.70,241.38 L174.73,241.14 L177.75,240.90 L180.78,240.64 L183.80,240.38 L186.83,240.11 L189.86,239.83 L192.88,239.54 L195.91,239.24 L198.93,238.93 L201.96,238.61 L204.99,238.29 L208.01,237.95 L211.04,237.60 L214.06,237.25 L217.09,236.88 L220.12,236.51 L223.14,236.12 L226.17,235.73 L229.19,235.32 L232.22,234.91 L235.25,234.48 L238.27,234.04 L241.30,233.60 L244.32,233.14 L247.35,232.67 L250.38,232.19 L253.40,231.70 L256.43,231.20 L259.45,230.68 L262.48,230.16 L265.51,229.62 L268.53,229.07 L271.56,228.51 L274.58,227.94 L277.61,227.35 L280.64,226.76 L283.66,226.15 L286.69,225.52 L289.71,224.89 L292.74,224.24 L295.77,223.58 L298.79,222.90 L301.82,222.21 L304.84,221.51 L307.87,220.79 L310.90,220.06 L313.92,219.32 L316.95,218.56 L319.97,217.78 L323.00,216.99 L326.03,216.18 L329.05,215.36 L332.08,214.52 L335.10,213.67 L338.13,212.79 L341.16,211.90 L344.18,211.00 L347.21,210.07 L350.23,209.13 L353.26,208.17 L356.29,207.19 L359.31,206.19 L362.34,205.17 L365.36,204.13 L368.39,203.07 L371.42,201.98 L374.44,200.88 L377.47,199.76 L380.49,198.61 L383.52,197.44 L386.55,196.25 L389.57,195.03 L392.60,193.79 L395.62,192.52 L398.65,191.23 L401.68,189.92 L404.70,188.58 L407.73,187.21 L410.75,185.81 L413.78,184.39 L416.81,182.94 L419.83,181.46 L422.86,179.95 L425.88,178.41 L428.91,176.85 L431.94,175.25 L434.96,173.62 L437.99,171.96 L441.01,170.27 L444.04,168.55 L447.07,166.80 L450.09,165.01 L453.12,163.19 L456.14,161.33 L459.17,159.45 L462.20,157.53 L465.22,155.57 L468.25,153.58 L471.27,151.55 L474.30,149.50 L477.33,147.40 L480.35,145.27 L483.38,143.11 L486.40,140.91 L489.43,138.67 L492.46,136.40 L495.48,134.10 L498.51,131.76 L501.53,129.39 L504.56,126.98 L507.59,124.54 L510.61,122.06 L513.64,119.56 L516.66,117.02 L519.69,114.45 L522.72,111.86 L525.74,109.23 L528.77,106.58 L531.79,103.91 L534.82,101.21 L537.85,98.50 L540.87,95.77 L543.90,93.03 L546.92,90.29 L549.95,87.56 L552.98,84.84 L556.00,82.14 L559.03,79.49 L562.05,76.90 L565.08,74.40 L565.38,74.15 L565.69,73.91 L565.99,73.67 L566.29,73.43 L566.59,73.19 L566.90,72.95 L567.20,72.72 L567.50,72.48 L567.80,72.25 L568.11,72.01 L568.41,71.78 L568.71,71.56 L569.01,71.33 L569.32,71.10 L569.62,70.88 L569.92,70.66 L570.22,70.44 L570.53,70.22 L570.83,70.00 L571.13,69.79 L571.43,69.58 L571.74,69.37 L572.04,69.16 L572.34,68.96 L572.64,68.75 L572.95,68.55 L573.25,68.36 L573.55,68.16 L573.86,67.97 L574.16,67.78 L574.46,67.59 L574.76,67.41 L575.07,67.23 L575.37,67.05 L575.67,66.87 L575.97,66.70 L576.28,66.53 L576.58,66.37 L576.88,66.20 L577.18,66.05 L577.49,65.89 L577.79,65.74 L578.09,65.59 L578.39,65.45 L578.70,65.31 L579.00,65.18 L579.30,65.05 L579.60,64.92 L579.91,64.80 L580.21,64.68 L580.51,64.57 L580.82,64.46 L581.12,64.36 L581.42,64.26 L581.72,64.17 L582.03,64.08 L582.33,64.00 L582.63,63.92 L582.93,63.85 L583.24,63.79 L583.54,63.73 L583.84,63.68 L584.14,63.64 L584.45,63.60 L584.75,63.57 L585.05,63.54 L585.35,63.52 L585.66,63.51 L585.96,63.51 L586.26,63.52 L586.56,63.53 L586.87,63.55 L587.17,63.58 L587.47,63.62 L587.77,63.67 L588.08,63.72 L588.38,63.79 L588.68,63.87 L588.99,63.95 L589.29,64.05 L589.59,64.15 L589.89,64.27 L590.20,64.39 L590.50,64.53 L590.80,64.68 L591.10,64.84 L591.41,65.01 L591.71,65.20 L592.01,65.40 L592.31,65.61 L592.62,65.83 L592.92,66.07 L593.22,66.32 L593.52,66.59 L593.83,66.87 L594.13,67.17 L594.43,67.48 L594.73,67.81 L595.04,68.15 L595.34,68.51 L595.64,68.89 L595.95,69.28 L596.25,69.70 L596.55,70.13 L596.85,70.58 L597.16,71.05 L597.46,71.54 L597.76,72.06 L598.06,72.59 L598.37,73.14 L598.67,73.72 L598.97,74.32 L599.27,74.94 L599.58,75.59 L599.88,76.26 L600.18,76.96 L600.48,77.68 L600.79,78.43 L601.09,79.21 L601.39,80.02 L601.69,80.85 L602.00,81.72 L602.30,82.61 L602.60,83.54 L602.91,84.50 L603.21,85.49 L603.51,86.51 L603.81,87.57 L604.12,88.67 L604.42,89.80 L604.72,90.97 L605.02,92.18 L605.33,93.43 L605.63,94.71 L605.93,96.05 L606.23,97.42 L606.54,98.84 L606.84,100.30 L607.14,101.81 L607.44,103.37 L607.75,104.98 L608.05,106.64 L608.35,108.35 L608.65,110.11 L608.96,111.93 L609.26,113.81 L609.56,115.74 L609.86,117.74 L610.17,119.80 L610.47,121.92 L610.77,124.10 L611.08,126.36 L611.38,128.68 L611.68,131.07 L611.98,133.54 L612.29,136.09 L612.59,138.71 L612.89,141.41 L613.19,144.20 L613.50,147.07 L613.53,147.36 L613.56,147.65 L613.59,147.95 L613.62,148.24 L613.65,148.54 L613.68,148.83 L613.71,149.13 L613.74,149.43 L613.77,149.73 L613.80,150.03 L613.83,150.33 L613.86,150.63 L613.89,150.94 L613.92,151.24 L613.95,151.54 L613.98,151.85 L614.01,152.16 L614.04,152.46 L614.07,152.77 L614.10,153.08 L614.13,153.39 L614.16,153.70 L614.19,154.01 L614.22,154.33 L614.25,154.64 L614.28,154.96 L614.31,155.27 L614.34,155.59 L614.37,155.91 L614.40,156.23 L614.43,156.55 L614.46,156.87 L614.49,157.19 L614.52,157.51 L614.56,157.84 L614.59,158.16 L614.62,158.49 L614.65,158.81 L614.68,159.14 L614.71,159.47 L614.74,159.80 L614.77,160.13 L614.80,160.46 L614.83,160.80 L614.86,161.13 L614.89,161.46 L614.92,161.80 L614.95,162.14 L614.98,162.47 L615.01,162.81 L615.04,163.15 L615.07,163.49 L615.10,163.84 L615.13,164.18 L615.16,164.52 L615.19,164.87 L615.22,165.22 L615.25,165.56 L615.28,165.91 L615.31,166.26 L615.34,166.61 L615.37,166.96 L615.40,167.32 L615.43,167.67 L615.46,168.03 L615.49,168.38 L615.52,168.74 L615.55,169.10 L615.58,169.46 L615.61,169.82 L615.64,170.18 L615.67,170.54 L615.70,170.90 L615.74,171.27 L615.77,171.64 L615.80,172.00 L615.83,172.37 L615.86,172.74 L615.89,173.11 L615.92,173.48 L615.95,173.86 L615.98,174.23 L616.01,174.61 L616.04,174.98 L616.07,175.36 L616.10,175.74 L616.13,176.12 L616.16,176.50 L616.19,176.88 L616.22,177.26 L616.25,177.65 L616.28,178.04 L616.31,178.42 L616.34,178.81 L616.37,179.20 L616.40,179.59 L616.43,179.98 L616.46,180.38 L616.49,180.77 L616.52,181.17 L616.55,181.56 L616.58,181.96 L616.61,182.36 L616.64,182.76 L616.67,183.16 L616.70,183.57 L616.73,183.97 L616.76,184.38 L616.79,184.78 L616.82,185.19 L616.85,185.60 L616.89,186.01 L616.92,186.42 L616.95,186.84 L616.98,187.25 L617.01,187.67 L617.04,188.08 L617.07,188.50 L617.10,188.92 L617.13,189.34 L617.16,189.77 L617.19,190.19 L617.22,190.62 L617.25,191.04 L617.28,191.47 L617.31,191.90 L617.34,192.33 L617.37,192.76 L617.40,193.20 L617.43,193.63 L617.46,194.07 L617.49,194.50 L617.52,194.94 L617.55,195.38 L617.58,195.82 L617.61,196.27 L617.64,196.71 L617.67,197.16 L617.70,197.61 L617.73,198.05 L617.76,198.50 L617.79,198.96 L617.82,199.41 L617.85,199.86 L617.88,200.32 L617.91,200.78 L617.94,201.24 L617.97,201.70 L618.00,202.16 L618.04,202.62 L618.07,203.09 L618.10,203.55 L618.13,204.02 L618.16,204.49 L618.19,204.96 L618.22,205.44 L618.25,205.91 L618.28,206.39 L618.31,206.86 L618.34,207.34 L618.37,207.82 L618.40,208.30 L618.43,208.79 L618.46,209.27 L618.49,209.76 L618.52,210.25 L618.55,210.74 L618.58,211.23 L618.61,211.72 L618.64,212.22 L618.67,212.71 L618.70,213.21 L618.73,213.71 L618.76,214.21 L618.79,214.71 L618.82,215.22 L618.85,215.72 L618.88,216.23 L618.91,216.74 L618.94,217.25 L618.97,217.77 L619.00,218.28 L619.03,218.80 L619.06,219.31 L619.09,219.83 L619.12,220.36 L619.15,220.88 L619.18,221.40 L619.22,221.93 L619.25,222.46 L619.28,222.99 L619.31,223.52 L619.34,224.06 L619.37,224.59 L619.40,225.13 L619.43,225.67 L619.46,226.21 L619.49,226.75 L619.52,227.30 L619.55,227.85 L619.58,228.39 L619.61,228.94 L619.64,229.50 L619.67,230.05 L619.70,230.61 L619.73,231.17 L619.76,231.73 L619.79,232.29 L619.82,232.85 L619.85,233.42 L619.88,233.98 L619.91,234.55 L619.94,235.13 L619.97,235.70 L620.00,236.28 L620.03,236.85 L620.06,237.43 L620.09,238.01 L620.12,238.60 L620.15,239.18 L620.18,239.77 L620.21,240.36 L620.24,240.95 L620.27,241.55 L620.30,242.14 L620.33,242.74 L620.37,243.34 L620.40,243.95 L620.43,244.55 L620.46,245.16 L620.49,245.77 L620.52,246.38 L620.55,246.99 L620.58,247.61 L620.61,248.22 L620.64,248.84 L620.67,249.47 L620.70,250.09 L620.73,250.72 L620.76,251.35 L620.79,251.98 L620.82,252.61 L620.85,253.25 L620.88,253.89 L620.91,254.53 L620.94,255.17 L620.97,255.82 L621.00,256.46 L621.03,257.11 L621.06,257.77 L621.09,258.42 L621.12,259.08 L621.15,259.74 L621.18,260.40 L621.21,261.07 L621.24,261.74 L621.27,262.41 L621.30,263.08 L621.33,263.75 L621.36,264.43 L621.39,265.11 L621.42,265.79 L621.45,266.48 L621.48,267.17 L621.51,267.86 L621.55,268.55 L621.58,269.25 L621.61,269.95 L621.64,270.65 L621.67,271.35 L621.70,272.06 L621.73,272.77 L621.76,273.49 L621.79,274.20 L621.82,274.92 L621.85,275.64 L621.88,276.37 L621.91,277.09 L621.94,277.82 L621.97,278.56 L622.00,279.29 L622.03,280.03 L622.06,280.77 L622.09,281.52 L622.12,282.27 L622.15,283.02 L622.18,283.77 L622.21,284.53 L622.24,285.29 L622.27,286.06 L622.30,286.82 L622.33,287.59 L622.36,288.37 L622.39,289.14 L622.42,289.93 L622.45,290.71 L622.48,291.50 L622.51,292.29 L622.54,293.08 L622.57,293.88 L622.60,294.68 L622.63,295.48 L622.66,296.29 L622.70,297.11 L622.73,297.92 L622.76,298.74 L622.79,299.56 L622.82,300.39 L622.85,301.22 L622.88,302.05 L622.91,302.89 L622.94,303.74 L622.97,304.58 L623.00,305.43 L623.03,306.29 L623.06,307.14 L623.09,308.01 L623.12,308.87 L623.15,309.74 L623.18,310.62 L623.21,311.50 L623.24,312.38 L623.27,313.27 L623.30,314.16 L623.33,315.06 L623.36,315.96 L623.39,316.87 L623.42,317.78 L623.45,318.69 L623.48,319.62 L623.51,320.54 L623.54,321.47 L623.57,322.41 L623.60,323.35 L623.63,324.29 L623.66,325.24 L623.69,326.20 L623.72,327.16 L623.75,328.13 L623.78,329.10 L623.81,330.08 L623.84,331.07 L623.88,332.06 L623.91,333.05 L623.94,334.05 L623.97,335.06 L624.00,336.08 L624.03,337.10 L624.06,338.12 L624.09,339.16 L624.12,340.20 L624.15,341.25 L624.18,342.30 L624.21,343.36 L624.24,344.43 L624.27,345.51 L624.30,346.59 L624.33,347.68 L624.36,348.78 L624.39,349.89 L624.42,351.01 L624.45,352.14 L624.48,353.27 L624.51,354.41 L624.54,355.56 L624.57,356.73 L624.60,357.90 L624.63,359.08 L624.66,360.27 L624.69,361.48 L624.72,362.69 L624.75,363.92 L624.78,365.16 L624.81,366.41 L624.84,367.67 L624.87,368.95 L624.90,370.24 L624.93,371.55 L624.96,372.87 L624.99,374.21 L625.03,375.57 L625.06,376.95 L625.09,378.34 L625.12,379.75 L625.15,381.19 L625.18,382.65 L625.21,384.14 L625.24,385.65 L625.27,387.20 L625.30,388.78 L625.33,390.39 L625.36,392.05 L625.39,393.76 L625.42,395.52 L625.45,397.35 L625.48,399.27 L625.51,401.30 L625.54,403.48 L625.57,405.93 L625.60,409.30" fill="none" stroke="#008000" stroke-width="2.0" stroke-dasharray="11.8 11.1"/>
<path d="M20.40,246.30 L23.43,246.30 L26.45,246.28 L29.48,246.26 L32.50,246.24 L35.53,246.21 L38.56,246.18 L41.58,246.14 L44.61,246.10 L47.63,246.06 L50.66,246.01 L53.69,245.97 L56.71,245.92 L59.74,245.87 L62.76,245.83 L65.79,245.78 L68.82,245.73 L71.84,245.68 L74.87,245.63 L77.89,245.58 L80.92,245.53 L83.95,245.48 L86.97,245.42 L90.00,245.37 L93.02,245.32 L96.05,245.26 L99.08,245.20 L102.10,245.14 L105.13,245.08 L108.15,245.02 L111.18,244.96 L114.21,244.89 L117.23,244.82 L120.26,244.74 L123.28,244.66 L126.31,244.58 L129.34,244.50 L132.36,244.40 L135.39,244.31 L138.41,244.21 L141.44,244.10 L144.47,243.99 L147.49,243.88 L150.52,243.75 L153.54,243.62 L156.57,243.49 L159.60,243.35 L162.62,243.20 L165.65,243.04 L168.67,242.88 L171.70,242.71 L174.73,242.53 L177.75,242.34 L180.78,242.15 L183.80,241.95 L186.83,241.74 L189.86,241.52 L192.88,241.30 L195.91,241.06 L198.93,240.82 L201.96,240.57 L204.99,240.31 L208.01,240.04 L211.04,239.77 L214.06,239.48 L217.09,239.19 L220.12,238.89 L223.14,238.58 L226.17,238.26 L229.19,237.93 L232.22,237.60 L235.25,237.26 L238.27,236.90 L241.30,236.54 L244.32,236.18 L247.35,235.80 L250.38,235.42 L253.40,235.02 L256.43,234.62 L259.45,234.21 L262.48,233.80 L265.51,233.37 L268.53,232.94 L271.56,232.50 L274.58,232.05 L277.61,231.60 L280.64,231.13 L283.66,230.66 L286.69,230.18 L289.71,229.70 L292.74,229.20 L295.77,228.70 L298.79,228.19 L301.82,227.67 L304.84,227.15 L307.87,226.61 L310.90,226.07 L313.92,225.52 L316.95,224.96 L319.97,224.40 L323.00,223.82 L326.03,223.24 L329.05,222.65 L332.08,222.05 L335.10,221.44 L338.13,220.82 L341.16,220.20 L344.18,219.56 L347.21,218.92 L350.23,218.26 L353.26,217.60 L356.29,216.92 L359.31,216.24 L362.34,215.54 L365.36,214.84 L368.39,214.12 L371.42,213.40 L374.44,212.66 L377.47,211.91 L380.49,211.15 L383.52,210.38 L386.55,209.60 L389.57,208.80 L392.60,208.00 L395.62,207.18 L398.65,206.35 L401.68,205.50 L404.70,204.65 L407.73,203.78 L410.75,202.90 L413.78,202.01 L416.81,201.10 L419.83,200.19 L422.86,199.26 L425.88,198.32 L428.91,197.37 L431.94,196.41 L434.96,195.43 L437.99,194.45 L441.01,193.46 L444.04,192.45 L447.07,191.44 L450.09,190.42 L453.12,189.40 L456.14,188.36 L459.17,187.33 L462.20,186.28 L465.22,185.24 L468.25,184.19 L471.27,183.15 L474.30,182.10 L477.33,181.06 L480.35,180.02 L483.38,178.99 L486.40,177.97 L489.43,176.96 L492.46,175.96 L495.48,174.98 L498.51,174.02 L501.53,173.08 L504.56,172.17 L507.59,171.29 L510.61,170.44 L513.64,169.63 L516.66,168.86 L519.69,168.14 L522.72,167.47 L525.74,166.85 L528.77,166.31 L531.79,165.83 L534.82,165.44 L537.85,165.13 L540.87,164.92 L543.90,164.81 L546.92,164.83 L549.95,164.98 L552.98,165.29 L556.00,165.76 L559.03,166.43 L562.05,167.31 L565.08,168.43 L565.38,168.56 L565.69,168.69 L565.99,168.83 L566.29,168.96 L566.59,169.10 L566.90,169.24 L567.20,169.39 L567.50,169.54 L567.80,169.69 L568.11,169.84 L568.41,170.00 L568.71,170.16 L569.01,170.33 L569.32,170.50 L569.62,170.67 L569.92,170.84 L570.22,171.02 L570.53,171.20 L570.83,171.39 L571.13,171.58 L571.43,171.77 L571.74,171.97 L572.04,172.17 L572.34,172.37 L572.64,172.58 L572.95,172.80 L573.25,173.01 L573.55,173.23 L573.86,173.46 L574.16,173.69 L574.46,173.92 L574.76,174.16 L575.07,174.40 L575.37,174.65 L575.67,174.90 L575.97,175.16 L576.28,175.42 L576.58,175.68 L576.88,175.96 L577.18,176.23 L577.49,176.51 L577.79,176.80 L578.09,177.09 L578.39,177.39 L578.70,177.69 L579.00,178.00 L579.30,178.31 L579.60,178.63 L579.91,178.95 L580.21,179.28 L580.51,179.62 L580.82,179.96 L581.12,180.31 L581.42,180.66 L581.72,181.02 L582.03,181.39 L582.33,181.76 L582.63,182.14 L582.93,182.53 L583.24,182.92 L583.54,183.32 L583.84,183.73 L584.14,184.14 L584.45,184.57 L584.75,185.00 L585.05,185.43 L585.35,185.88 L585.66,186.33 L585.96,186.79 L586.26,187.26 L586.56,187.73 L586.87,188.22 L587.17,188.71 L587.47,189.21 L587.77,189.72 L588.08,190.24 L588.38,190.77 L588.68,191.30 L588.99,191.85 L589.29,192.41 L589.59,192.97 L589.89,193.55 L590.20,194.13 L590.50,194.73 L590.80,195.33 L591.10,195.95 L591.41,196.57 L591.71,197.21 L592.01,197.86 L592.31,198.52 L592.62,199.19 L592.92,199.87 L593.22,200.56 L593.52,201.27 L593.83,201.98 L594.13,202.71 L594.43,203.45 L594.73,204.21 L595.04,204.98 L595.34,205.76 L595.64,206.55 L595.95,207.36 L596.25,208.18 L596.55,209.02 L596.85,209.87 L597.16,210.73 L597.46,211.61 L597.76,212.50 L598.06,213.41 L598.37,214.34 L598.67,215.28 L598.97,216.23 L599.27,217.21 L599.58,218.19 L599.88,219.20 L600.18,220.22 L600.48,221.26 L600.79,222.32 L601.09,223.40 L601.39,224.49 L601.69,225.61 L602.00,226.74 L602.30,227.89 L602.60,229.06 L602.91,230.25 L603.21,231.46 L603.51,232.69 L603.81,233.94 L604.12,235.22 L604.42,236.51 L604.72,237.83 L605.02,239.16 L605.33,240.53 L605.63,241.91 L605.93,243.32 L606.23,244.75 L606.54,246.20 L606.84,247.68 L607.14,249.19 L607.44,250.72 L607.75,252.28 L608.05,253.86 L608.35,255.47 L608.65,257.10 L608.96,258.76 L609.26,260.45 L609.56,262.17 L609.86,263.92 L610.17,265.70 L610.47,267.51 L610.77,269.34 L611.08,271.21 L611.38,273.11 L611.68,275.04 L611.98,277.00 L612.29,279.00 L612.59,281.03 L612.89,283.09 L613.19,285.19 L613.50,287.32 L613.53,287.53 L613.56,287.75 L613.59,287.96 L613.62,288.18 L613.65,288.40 L613.68,288.61 L613.71,288.83 L613.74,289.05 L613.77,289.27 L613.80,289.48 L613.83,289.70 L613.86,289.92 L613.89,290.14 L613.92,290.36 L613.95,290.58 L613.98,290.80 L614.01,291.02 L614.04,291.24 L614.07,291.46 L614.10,291.69 L614.13,291.91 L614.16,292.13 L614.19,292.35 L614.22,292.58 L614.25,292.80 L614.28,293.03 L614.31,293.25 L614.34,293.47 L614.37,293.70 L614.40,293.93 L614.43,294.15 L614.46,294.38 L614.49,294.60 L614.52,294.83 L614.56,295.06 L614.59,295.29 L614.62,295.51 L614.65,295.74 L614.68,295.97 L614.71,296.20 L614.74,296.43 L614.77,296.66 L614.80,296.89 L614.83,297.12 L614.86,297.35 L614.89,297.59 L614.92,297.82 L614.95,298.05 L614.98,298.28 L615.01,298.52 L615.04,298.75 L615.07,298.98 L615.10,299.22 L615.13,299.45 L615.16,299.69 L615.19,299.92 L615.22,300.16 L615.25,300.39 L615.28,300.63 L615.31,300.87 L615.34,301.10 L615.37,301.34 L615.40,301.58 L615.43,301.82 L615.46,302.06 L615.49,302.30 L615.52,302.54 L615.55,302.78 L615.58,303.02 L615.61,303.26 L615.64,303.50 L615.67,303.74 L615.70,303.98 L615.74,304.23 L615.77,304.47 L615.80,304.71 L615.83,304.95 L615.86,305.20 L615.89,305.44 L615.92,305.69 L615.95,305.93 L615.98,306.18 L616.01,306.43 L616.04,306.67 L616.07,306.92 L616.10,307.17 L616.13,307.41 L616.16,307.66 L616.19,307.91 L616.22,308.16 L616.25,308.41 L616.28,308.66 L616.31,308.91 L616.34,309.16 L616.37,309.41 L616.40,309.66 L616.43,309.91 L616.46,310.16 L616.49,310.42 L616.52,310.67 L616.55,310.92 L616.58,311.18 L616.61,311.43 L616.64,311.69 L616.67,311.94 L616.70,312.20 L616.73,312.45 L616.76,312.71 L616.79,312.96 L616.82,313.22 L616.85,313.48 L616.89,313.74 L616.92,314.00 L616.95,314.25 L616.98,314.51 L617.01,314.77 L617.04,315.03 L617.07,315.29 L617.10,315.55 L617.13,315.82 L617.16,316.08 L617.19,316.34 L617.22,316.60 L617.25,316.87 L617.28,317.13 L617.31,317.39 L617.34,317.66 L617.37,317.92 L617.40,318.19 L617.43,318.45 L617.46,318.72 L617.49,318.99 L617.52,319.25 L617.55,319.52 L617.58,319.79 L617.61,320.06 L617.64,320.33 L617.67,320.59 L617.70,320.86 L617.73,321.13 L617.76,321.40 L617.79,321.68 L617.82,321.95 L617.85,322.22 L617.88,322.49 L617.91,322.76 L617.94,323.04 L617.97,323.31 L618.00,323.58 L618.04,323.86 L618.07,324.13 L618.10,324.41 L618.13,324.68 L618.16,324.96 L618.19,325.24 L618.22,325.51 L618.25,325.79 L618.28,326.07 L618.31,326.35 L618.34,326.63 L618.37,326.91 L618.40,327.19 L618.43,327.47 L618.46,327.75 L618.49,328.03 L618.52,328.31 L618.55,328.59 L618.58,328.88 L618.61,329.16 L618.64,329.44 L618.67,329.73 L618.70,330.01 L618.73,330.30 L618.76,330.58 L618.79,330.87 L618.82,331.15 L618.85,331.44 L618.88,331.73 L618.91,332.02 L618.94,332.30 L618.97,332.59 L619.00,332.88 L619.03,333.17 L619.06,333.46 L619.09,333.75 L619.12,334.04 L619.15,334.33 L619.18,334.63 L619.22,334.92 L619.25,335.21 L619.28,335.51 L619.31,335.80 L619.34,336.09 L619.37,336.39 L619.40,336.68 L619.43,336.98 L619.46,337.28 L619.49,337.57 L619.52,337.87 L619.55,338.17 L619.58,338.47 L619.61,338.77 L619.64,339.06 L619.67,339.36 L619.70,339.66 L619.73,339.97 L619.76,340.27 L619.79,340.57 L619.82,340.87 L619.85,341.17 L619.88,341.48 L619.91,341.78 L619.94,342.08 L619.97,342.39 L620.00,342.69 L620.03,343.00 L620.06,343.31 L620.09,343.61 L620.12,343.92 L620.15,344.23 L620.18,344.54 L620.21,344.84 L620.24,345.15 L620.27,345.46 L620.30,345.77 L620.33,346.08 L620.37,346.40 L620.40,346.71 L620.43,347.02 L620.46,347.33 L620.49,347.65 L620.52,347.96 L620.55,348.27 L620.58,348.59 L620.61,348.90 L620.64,349.22 L620.67,349.54 L620.70,349.85 L620.73,350.17 L620.76,350.49 L620.79,350.81 L620.82,351.13 L620.85,351.45 L620.88,351.77 L620.91,352.09 L620.94,352.41 L620.97,352.73 L621.00,353.05 L621.03,353.37 L621.06,353.70 L621.09,354.02 L621.12,354.34 L621.15,354.67 L621.18,354.99 L621.21,355.32 L621.24,355.65 L621.27,355.97 L621.30,356.30 L621.33,356.63 L621.36,356.96 L621.39,357.29 L621.42,357.62 L621.45,357.95 L621.48,358.28 L621.51,358.61 L621.55,358.94 L621.58,359.27 L621.61,359.61 L621.64,359.94 L621.67,360.27 L621.70,360.61 L621.73,360.94 L621.76,361.28 L621.79,361.62 L621.82,361.95 L621.85,362.29 L621.88,362.63 L621.91,362.97 L621.94,363.31 L621.97,363.65 L622.00,363.99 L622.03,364.33 L622.06,364.67 L622.09,365.01 L622.12,365.35 L622.15,365.70 L622.18,366.04 L622.21,366.38 L622.24,366.73 L622.27,367.07 L622.30,367.42 L622.33,367.77 L622.36,368.11 L622.39,368.46 L622.42,368.81 L622.45,369.16 L622.48,369.51 L622.51,369.86 L622.54,370.21 L622.57,370.56 L622.60,370.91 L622.63,371.27 L622.66,371.62 L622.70,371.97 L622.73,372.33 L622.76,372.68 L622.79,373.04 L622.82,373.39 L622.85,373.75 L622.88,374.11 L622.91,374.47 L622.94,374.82 L622.97,375.18 L623.00,375.54 L623.03,375.90 L623.06,376.26 L623.09,376.63 L623.12,376.99 L623.15,377.35 L623.18,377.72 L623.21,378.08 L623.24,378.44 L623.27,378.81 L623.30,379.18 L623.33,379.54 L623.36,379.91 L623.39,380.28 L623.42,380.65 L623.45,381.02 L623.48,381.39 L623.51,381.76 L623.54,382.13 L623.57,382.50 L623.60,382.87 L623.63,383.25 L623.66,383.62 L623.69,384.00 L623.72,384.37 L623.75,384.75 L623.78,385.12 L623.81,385.50 L623.84,385.88 L623.88,386.26 L623.91,386.64 L623.94,387.02 L623.97,387.40 L624.00,387.78 L624.03,388.16 L624.06,388.55 L624.09,388.93 L624.12,389.31 L624.15,389.70 L624.18,390.09 L624.21,390.47 L624.24,390.86 L624.27,391.25 L624.30,391.64 L624.33,392.03 L624.36,392.42 L624.39,392.81 L624.42,393.20 L624.45,393.59 L624.48,393.99 L624.51,394.38 L624.54,394.78 L624.57,395.17 L624.60,395.57 L624.63,395.97 L624.66,396.37 L624.69,396.76 L624.72,397.17 L624.75,397.57 L624.78,397.97 L624.81,398.37 L624.84,398.78 L624.87,399.18 L624.90,399.59 L624.93,399.99 L624.96,400.40 L624.99,400.81 L625.03,401.22 L625.06,401.63 L625.09,402.04 L625.12,402.45 L625.15,402.87 L625.18,403.28 L625.21,403.70 L625.24,404.12 L625.27,404.54 L625.30,404.96 L625.33,405.38 L625.36,405.81 L625.39,406.23 L625.42,406.66 L625.45,407.09 L625.48,407.52 L625.51,407.96 L625.54,408.40 L625.57,408.84 L625.60,409.30" fill="none" stroke="#008000" stroke-width="2.0" stroke-dasharray="11.8 11.1"/>
<path d="M20.40,246.30 L23.43,246.30 L26.45,246.30 L29.48,246.31 L32.50,246.32 L35.53,246.33 L38.56,246.34 L41.58,246.36 L44.61,246.37 L47.63,246.39 L50.66,246.42 L53.69,246.44 L56.71,246.47 L59.74,246.50 L62.76,246.53 L65.79,246.57 L68.82,246.61 L71.84,246.65 L74.87,246.70 L77.89,246.75 L80.92,246.80 L83.95,246.86 L86.97,246.92 L90.00,246.98 L93.02,247.05 L96.05,247.13 L99.08,247.20 L102.10,247.29 L105.13,247.37 L108.15,247.46 L111.18,247.56 L114.21,247.66 L117.23,247.77 L120.26,247.88 L123.28,248.00 L126.31,248.12 L129.34,248.25 L132.36,248.38 L135.39,248.52 L138.41,248.66 L141.44,248.82 L144.47,248.97 L147.49,249.14 L150.52,249.31 L153.54,249.49 L156.57,249.67 L159.60,249.86 L162.62,250.06 L165.65,250.26 L168.67,250.47 L171.70,250.69 L174.73,250.91 L177.75,251.15 L180.78,251.39 L183.80,251.63 L186.83,251.89 L189.86,252.15 L192.88,252.42 L195.91,252.69 L198.93,252.98 L201.96,253.27 L204.99,253.57 L208.01,253.88 L211.04,254.20 L214.06,254.52 L217.09,254.85 L220.12,255.19 L223.14,255.54 L226.17,255.90 L229.19,256.26 L232.22,256.63 L235.25,257.01 L238.27,257.40 L241.30,257.80 L244.32,258.21 L247.35,258.62 L250.38,259.05 L253.40,259.48 L256.43,259.92 L259.45,260.37 L262.48,260.83 L265.51,261.29 L268.53,261.77 L271.56,262.25 L274.58,262.74 L277.61,263.25 L280.64,263.76 L283.66,264.28 L286.69,264.81 L289.71,265.34 L292.74,265.89 L295.77,266.45 L298.79,267.01 L301.82,267.59 L304.84,268.17 L307.87,268.77 L310.90,269.37 L313.92,269.99 L316.95,270.61 L319.97,271.24 L323.00,271.89 L326.03,272.54 L329.05,273.20 L332.08,273.87 L335.10,274.56 L338.13,275.25 L341.16,275.96 L344.18,276.67 L347.21,277.40 L350.23,278.13 L353.26,278.88 L356.29,279.64 L359.31,280.41 L362.34,281.19 L365.36,281.98 L368.39,282.78 L371.42,283.60 L374.44,284.42 L377.47,285.26 L380.49,286.11 L383.52,286.98 L386.55,287.85 L389.57,288.74 L392.60,289.64 L395.62,290.55 L398.65,291.48 L401.68,292.42 L404.70,293.37 L407.73,294.34 L410.75,295.32 L413.78,296.32 L416.81,297.33 L419.83,298.35 L422.86,299.39 L425.88,300.44 L428.91,301.51 L431.94,302.59 L434.96,303.69 L437.99,304.81 L441.01,305.94 L444.04,307.08 L447.07,308.24 L450.09,309.42 L453.12,310.61 L456.14,311.82 L459.17,313.05 L462.20,314.29 L465.22,315.55 L468.25,316.83 L471.27,318.13 L474.30,319.44 L477.33,320.77 L480.35,322.11 L483.38,323.47 L486.40,324.85 L489.43,326.25 L492.46,327.67 L495.48,329.10 L498.51,330.55 L501.53,332.01 L504.56,333.50 L507.59,335.00 L510.61,336.51 L513.64,338.05 L516.66,339.59 L519.69,341.16 L522.72,342.74 L525.74,344.34 L528.77,345.95 L531.79,347.59 L534.82,349.23 L537.85,350.89 L540.87,352.57 L543.90,354.27 L546.92,355.98 L549.95,357.70 L552.98,359.45 L556.00,361.21 L559.03,362.99 L562.05,364.79 L565.08,366.61 L565.38,366.80 L565.69,366.98 L565.99,367.17 L566.29,367.35 L566.59,367.53 L566.90,367.72 L567.20,367.90 L567.50,368.09 L567.80,368.27 L568.11,368.46 L568.41,368.64 L568.71,368.83 L569.01,369.02 L569.32,369.20 L569.62,369.39 L569.92,369.58 L570.22,369.76 L570.53,369.95 L570.83,370.14 L571.13,370.33 L571.43,370.51 L571.74,370.70 L572.04,370.89 L572.34,371.08 L572.64,371.27 L572.95,371.46 L573.25,371.65 L573.55,371.84 L573.86,372.03 L574.16,372.22 L574.46,372.41 L574.76,372.60 L575.07,372.79 L575.37,372.98 L575.67,373.18 L575.97,373.37 L576.28,373.56 L576.58,373.75 L576.88,373.95 L577.18,374.14 L577.49,374.33 L577.79,374.53 L578.09,374.72 L578.39,374.92 L578.70,375.11 L579.00,375.31 L579.30,375.50 L579.60,375.70 L579.91,375.90 L580.21,376.09 L580.51,376.29 L580.82,376.49 L581.12,376.68 L581.42,376.88 L581.72,377.08 L582.03,377.28 L582.33,377.48 L582.63,377.68 L582.93,377.88 L583.24,378.08 L583.54,378.28 L583.84,378.48 L584.14,378.68 L584.45,378.88 L584.75,379.08 L585.05,379.29 L585.35,379.49 L585.66,379.69 L585.96,379.90 L586.26,380.10 L586.56,380.30 L586.87,380.51 L587.17,380.71 L587.47,380.92 L587.77,381.13 L588.08,381.33 L588.38,381.54 L588.68,381.75 L588.99,381.95 L589.29,382.16 L589.59,382.37 L589.89,382.58 L590.20,382.79 L590.50,383.00 L590.80,383.21 L591.10,383.42 L591.41,383.63 L591.71,383.84 L592.01,384.05 L592.31,384.27 L592.62,384.48 L592.92,384.69 L593.22,384.91 L593.52,385.12 L593.83,385.34 L594.13,385.55 L594.43,385.77 L594.73,385.98 L595.04,386.20 L595.34,386.42 L595.64,386.64 L595.95,386.86 L596.25,387.07 L596.55,387.29 L596.85,387.51 L597.16,387.73 L597.46,387.95 L597.76,388.18 L598.06,388.40 L598.37,388.62 L598.67,388.84 L598.97,389.07 L599.27,389.29 L599.58,389.51 L599.88,389.74 L600.18,389.97 L600.48,390.19 L600.79,390.42 L601.09,390.65 L601.39,390.87 L601.69,391.10 L602.00,391.33 L602.30,391.56 L602.60,391.79 L602.91,392.02 L603.21,392.25 L603.51,392.48 L603.81,392.71 L604.12,392.95 L604.42,393.18 L604.72,393.41 L605.02,393.65 L605.33,393.88 L605.63,394.12 L605.93,394.35 L606.23,394.59 L606.54,394.82 L606.84,395.06 L607.14,395.30 L607.44,395.54 L607.75,395.78 L608.05,396.01 L608.35,396.25 L608.65,396.49 L608.96,396.73 L609.26,396.97 L609.56,397.22 L609.86,397.46 L610.17,397.70 L610.47,397.94 L610.77,398.18 L611.08,398.43 L611.38,398.67 L611.68,398.91 L611.98,399.16 L612.29,399.40 L612.59,399.65 L612.89,399.89 L613.19,400.14 L613.50,400.38 L613.53,400.41 L613.56,400.43 L613.59,400.46 L613.62,400.48 L613.65,400.50 L613.68,400.53 L613.71,400.55 L613.74,400.58 L613.77,400.60 L613.80,400.63 L613.83,400.65 L613.86,400.68 L613.89,400.70 L613.92,400.72 L613.95,400.75 L613.98,400.77 L614.01,400.80 L614.04,400.82 L614.07,400.85 L614.10,400.87 L614.13,400.90 L614.16,400.92 L614.19,400.95 L614.22,400.97 L614.25,400.99 L614.28,401.02 L614.31,401.04 L614.34,401.07 L614.37,401.09 L614.40,401.12 L614.43,401.14 L614.46,401.17 L614.49,401.19 L614.52,401.22 L614.56,401.24 L614.59,401.26 L614.62,401.29 L614.65,401.31 L614.68,401.34 L614.71,401.36 L614.74,401.39 L614.77,401.41 L614.80,401.44 L614.83,401.46 L614.86,401.49 L614.89,401.51 L614.92,401.53 L614.95,401.56 L614.98,401.58 L615.01,401.61 L615.04,401.63 L615.07,401.66 L615.10,401.68 L615.13,401.71 L615.16,401.73 L615.19,401.76 L615.22,401.78 L615.25,401.80 L615.28,401.83 L615.31,401.85 L615.34,401.88 L615.37,401.90 L615.40,401.93 L615.43,401.95 L615.46,401.98 L615.49,402.00 L615.52,402.03 L615.55,402.05 L615.58,402.07 L615.61,402.10 L615.64,402.12 L615.67,402.15 L615.70,402.17 L615.74,402.20 L615.77,402.22 L615.80,402.25 L615.83,402.27 L615.86,402.30 L615.89,402.32 L615.92,402.34 L615.95,402.37 L615.98,402.39 L616.01,402.42 L616.04,402.44 L616.07,402.47 L616.10,402.49 L616.13,402.52 L616.16,402.54 L616.19,402.56 L616.22,402.59 L616.25,402.61 L616.28,402.64 L616.31,402.66 L616.34,402.69 L616.37,402.71 L616.40,402.74 L616.43,402.76 L616.46,402.79 L616.49,402.81 L616.52,402.83 L616.55,402.86 L616.58,402.88 L616.61,402.91 L616.64,402.93 L616.67,402.96 L616.70,402.98 L616.73,403.01 L616.76,403.03 L616.79,403.05 L616.82,403.08 L616.85,403.10 L616.89,403.13 L616.92,403.15 L616.95,403.18 L616.98,403.20 L617.01,403.22 L617.04,403.25 L617.07,403.27 L617.10,403.30 L617.13,403.32 L617.16,403.35 L617.19,403.37 L617.22,403.40 L617.25,403.42 L617.28,403.44 L617.31,403.47 L617.34,403.49 L617.37,403.52 L617.40,403.54 L617.43,403.57 L617.46,403.59 L617.49,403.61 L617.52,403.64 L617.55,403.66 L617.58,403.69 L617.61,403.71 L617.64,403.74 L617.67,403.76 L617.70,403.78 L617.73,403.81 L617.76,403.83 L617.79,403.86 L617.82,403.88 L617.85,403.91 L617.88,403.93 L617.91,403.95 L617.94,403.98 L617.97,404.00 L618.00,404.03 L618.04,404.05 L618.07,404.08 L618.10,404.10 L618.13,404.12 L618.16,404.15 L618.19,404.17 L618.22,404.20 L618.25,404.22 L618.28,404.25 L618.31,404.27 L618.34,404.29 L618.37,404.32 L618.40,404.34 L618.43,404.37 L618.46,404.39 L618.49,404.41 L618.52,404.44 L618.55,404.46 L618.58,404.49 L618.61,404.51 L618.64,404.53 L618.67,404.56 L618.70,404.58 L618.73,404.61 L618.76,404.63 L618.79,404.65 L618.82,404.68 L618.85,404.70 L618.88,404.73 L618.91,404.75 L618.94,404.77 L618.97,404.80 L619.00,404.82 L619.03,404.85 L619.06,404.87 L619.09,404.89 L619.12,404.92 L619.15,404.94 L619.18,404.97 L619.22,404.99 L619.25,405.01 L619.28,405.04 L619.31,405.06 L619.34,405.09 L619.37,405.11 L619.40,405.13 L619.43,405.16 L619.46,405.18 L619.49,405.20 L619.52,405.23 L619.55,405.25 L619.58,405.28 L619.61,405.30 L619.64,405.32 L619.67,405.35 L619.70,405.37 L619.73,405.39 L619.76,405.42 L619.79,405.44 L619.82,405.47 L619.85,405.49 L619.88,405.51 L619.91,405.54 L619.94,405.56 L619.97,405.58 L620.00,405.61 L620.03,405.63 L620.06,405.65 L620.09,405.68 L620.12,405.70 L620.15,405.72 L620.18,405.75 L620.21,405.77 L620.24,405.79 L620.27,405.82 L620.30,405.84 L620.33,405.87 L620.37,405.89 L620.40,405.91 L620.43,405.94 L620.46,405.96 L620.49,405.98 L620.52,406.01 L620.55,406.03 L620.58,406.05 L620.61,406.07 L620.64,406.10 L620.67,406.12 L620.70,406.14 L620.73,406.17 L620.76,406.19 L620.79,406.21 L620.82,406.24 L620.85,406.26 L620.88,406.28 L620.91,406.31 L620.94,406.33 L620.97,406.35 L621.00,406.38 L621.03,406.40 L621.06,406.42 L621.09,406.44 L621.12,406.47 L621.15,406.49 L621.18,406.51 L621.21,406.54 L621.24,406.56 L621.27,406.58 L621.30,406.60 L621.33,406.63 L621.36,406.65 L621.39,406.67 L621.42,406.69 L621.45,406.72 L621.48,406.74 L621.51,406.76 L621.55,406.78 L621.58,406.81 L621.61,406.83 L621.64,406.85 L621.67,406.87 L621.70,406.90 L621.73,406.92 L621.76,406.94 L621.79,406.96 L621.82,406.99 L621.85,407.01 L621.88,407.03 L621.91,407.05 L621.94,407.08 L621.97,407.10 L622.00,407.12 L622.03,407.14 L622.06,407.16 L622.09,407.19 L622.12,407.21 L622.15,407.23 L622.18,407.25 L622.21,407.27 L622.24,407.30 L622.27,407.32 L622.30,407.34 L622.33,407.36 L622.36,407.38 L622.39,407.40 L622.42,407.43 L622.45,407.45 L622.48,407.47 L622.51,407.49 L622.54,407.51 L622.57,407.53 L622.60,407.56 L622.63,407.58 L622.66,407.60 L622.70,407.62 L622.73,407.64 L622.76,407.66 L622.79,407.68 L622.82,407.70 L622.85,407.73 L622.88,407.75 L622.91,407.77 L622.94,407.79 L622.97,407.81 L623.00,407.83 L623.03,407.85 L623.06,407.87 L623.09,407.89 L623.12,407.91 L623.15,407.93 L623.18,407.96 L623.21,407.98 L623.24,408.00 L623.27,408.02 L623.30,408.04 L623.33,408.06 L623.36,408.08 L623.39,408.10 L623.42,408.12 L623.45,408.14 L623.48,408.16 L623.51,408.18 L623.54,408.20 L623.57,408.22 L623.60,408.24 L623.63,408.26 L623.66,408.28 L623.69,408.30 L623.72,408.32 L623.75,408.34 L623.78,408.36 L623.81,408.38 L623.84,408.39 L623.88,408.41 L623.91,408.43 L623.94,408.45 L623.97,408.47 L624.00,408.49 L624.03,408.51 L624.06,408.53 L624.09,408.55 L624.12,408.56 L624.15,408.58 L624.18,408.60 L624.21,408.62 L624.24,408.64 L624.27,408.66 L624.30,408.67 L624.33,408.69 L624.36,408.71 L624.39,408.73 L624.42,408.75 L624.45,408.76 L624.48,408.78 L624.51,408.80 L624.54,408.82 L624.57,408.83 L624.60,408.85 L624.63,408.87 L624.66,408.88 L624.69,408.90 L624.72,408.92 L624.75,408.93 L624.78,408.95 L624.81,408.97 L624.84,408.98 L624.87,409.00 L624.90,409.01 L624.93,409.03 L624.96,409.04 L624.99,409.06 L625.03,409.07 L625.06,409.09 L625.09,409.10 L625.12,409.12 L625.15,409.13 L625.18,409.15 L625.21,409.16 L625.24,409.17 L625.27,409.19 L625.30,409.20 L625.33,409.21 L625.36,409.22 L625.39,409.24 L625.42,409.25 L625.45,409.26 L625.48,409.27 L625.51,409.28 L625.54,409.29 L625.57,409.29 L625.60,409.30" fill="none" stroke="#008000" stroke-width="2.0" stroke-dasharray="11.8 11.1"/>
<path d="M20.40,246.30 L23.43,246.30 L26.45,246.30 L29.48,246.29 L32.50,246.29 L35.53,246.29 L38.56,246.28 L41.58,246.27 L44.61,246.26 L47.63,246.25 L50.66,246.24 L53.69,246.23 L56.71,246.21 L59.74,246.19 L62.76,246.18 L65.79,246.16 L68.82,246.14 L71.84,246.12 L74.87,246.09 L77.89,246.07 L80.92,246.04 L83.95,246.01 L86.97,245.98 L90.00,245.95 L93.02,245.92 L96.05,245.88 L99.08,245.84 L102.10,245.80 L105.13,245.76 L108.15,245.72 L111.18,245.67 L114.21,245.63 L117.23,245.58 L120.26,245.52 L123.28,245.47 L126.31,245.41 L129.34,245.35 L132.36,245.29 L135.39,245.22 L138.41,245.15 L141.44,245.08 L144.47,245.01 L147.49,244.93 L150.52,244.85 L153.54,244.77 L156.57,244.68 L159.60,244.59 L162.62,244.49 L165.65,244.39 L168.67,244.29 L171.70,244.18 L174.73,244.06 L177.75,243.95 L180.78,243.83 L183.80,243.70 L186.83,243.57 L189.86,243.43 L192.88,243.29 L195.91,243.14 L198.93,242.98 L201.96,242.82 L204.99,242.66 L208.01,242.49 L211.04,242.31 L214.06,242.12 L217.09,241.93 L220.12,241.73 L223.14,241.52 L226.17,241.31 L229.19,241.09 L232.22,240.86 L235.25,240.62 L238.27,240.37 L241.30,240.12 L244.32,239.86 L247.35,239.58 L250.38,239.30 L253.40,239.01 L256.43,238.71 L259.45,238.40 L262.48,238.08 L265.51,237.75 L268.53,237.41 L271.56,237.06 L274.58,236.70 L277.61,236.33 L280.64,235.95 L283.66,235.55 L286.69,235.15 L289.71,234.73 L292.74,234.30 L295.77,233.86 L298.79,233.40 L301.82,232.93 L304.84,232.45 L307.87,231.96 L310.90,231.45 L313.92,230.93 L316.95,230.40 L319.97,229.85 L323.00,229.28 L326.03,228.70 L329.05,228.11 L332.08,227.50 L335.10,226.88 L338.13,226.24 L341.16,225.58 L344.18,224.91 L347.21,224.22 L350.23,223.52 L353.26,222.80 L356.29,222.06 L359.31,221.30 L362.34,220.53 L365.36,219.74 L368.39,218.93 L371.42,218.10 L374.44,217.25 L377.47,216.38 L380.49,215.49 L383.52,214.58 L386.55,213.65 L389.57,212.70 L392.60,211.73 L395.62,210.74 L398.65,209.73 L401.68,208.69 L404.70,207.63 L407.73,206.55 L410.75,205.44 L413.78,204.31 L416.81,203.15 L419.83,201.97 L422.86,200.77 L425.88,199.53 L428.91,198.27 L431.94,196.98 L434.96,195.67 L437.99,194.32 L441.01,192.95 L444.04,191.55 L447.07,190.11 L450.09,188.64 L453.12,187.15 L456.14,185.61 L459.17,184.05 L462.20,182.45 L465.22,180.81 L468.25,179.14 L471.27,177.43 L474.30,175.68 L477.33,173.89 L480.35,172.06 L483.38,170.19 L486.40,168.28 L489.43,166.32 L492.46,164.32 L495.48,162.27 L498.51,160.17 L501.53,158.02 L504.56,155.83 L507.59,153.58 L510.61,151.28 L513.64,148.92 L516.66,146.51 L519.69,144.04 L522.72,141.52 L525.74,138.93 L528.77,136.29 L531.79,133.58 L534.82,130.82 L537.85,127.99 L540.87,125.11 L543.90,122.17 L546.92,119.17 L549.95,116.12 L552.98,113.03 L556.00,109.90 L559.03,106.75 L562.05,103.59 L565.08,100.44 L565.38,100.12 L565.69,99.81 L565.99,99.50 L566.29,99.18 L566.59,98.87 L566.90,98.56 L567.20,98.25 L567.50,97.94 L567.80,97.63 L568.11,97.32 L568.41,97.01 L568.71,96.70 L569.01,96.40 L569.32,96.09 L569.62,95.79 L569.92,95.48 L570.22,95.18 L570.53,94.88 L570.83,94.58 L571.13,94.28 L571.43,93.98 L571.74,93.68 L572.04,93.38 L572.34,93.09 L572.64,92.79 L572.95,92.50 L573.25,92.21 L573.55,91.92 L573.86,91.63 L574.16,91.35 L574.46,91.06 L574.76,90.78 L575.07,90.50 L575.37,90.22 L575.67,89.95 L575.97,89.67 L576.28,89.40 L576.58,89.13 L576.88,88.86 L577.18,88.60 L577.49,88.33 L577.79,88.07 L578.09,87.82 L578.39,87.56 L578.70,87.31 L579.00,87.06 L579.30,86.81 L579.60,86.57 L579.91,86.33 L580.21,86.09 L580.51,85.86 L580.82,85.63 L581.12,85.41 L581.42,85.18 L581.72,84.97 L582.03,84.75 L582.33,84.54 L582.63,84.34 L582.93,84.13 L583.24,83.94 L583.54,83.75 L583.84,83.56 L584.14,83.38 L584.45,83.20 L584.75,83.03 L585.05,82.86 L585.35,82.70 L585.66,82.55 L585.96,82.40 L586.26,82.25 L586.56,82.12 L586.87,81.99 L587.17,81.87 L587.47,81.75 L587.77,81.64 L588.08,81.54 L588.38,81.44 L588.68,81.36 L588.99,81.28 L589.29,81.21 L589.59,81.14 L589.89,81.09 L590.20,81.04 L590.50,81.01 L590.80,80.98 L591.10,80.97 L591.41,80.96 L591.71,80.96 L592.01,80.98 L592.31,81.00 L592.62,81.04 L592.92,81.08 L593.22,81.14 L593.52,81.21 L593.83,81.29 L594.13,81.39 L594.43,81.50 L594.73,81.62 L595.04,81.76 L595.34,81.91 L595.64,82.07 L595.95,82.25 L596.25,82.45 L596.55,82.66 L596.85,82.89 L597.16,83.13 L597.46,83.39 L597.76,83.67 L598.06,83.97 L598.37,84.28 L598.67,84.62 L598.97,84.97 L599.27,85.35 L599.58,85.74 L599.88,86.16 L600.18,86.60 L600.48,87.06 L600.79,87.55 L601.09,88.05 L601.39,88.59 L601.69,89.15 L602.00,89.73 L602.30,90.34 L602.60,90.98 L602.91,91.65 L603.21,92.35 L603.51,93.07 L603.81,93.83 L604.12,94.62 L604.42,95.44 L604.72,96.29 L605.02,97.18 L605.33,98.10 L605.63,99.07 L605.93,100.06 L606.23,101.10 L606.54,102.18 L606.84,103.29 L607.14,104.45 L607.44,105.66 L607.75,106.90 L608.05,108.20 L608.35,109.54 L608.65,110.93 L608.96,112.37 L609.26,113.86 L609.56,115.40 L609.86,117.00 L610.17,118.66 L610.47,120.38 L610.77,122.15 L611.08,123.99 L611.38,125.90 L611.68,127.87 L611.98,129.91 L612.29,132.02 L612.59,134.20 L612.89,136.46 L613.19,138.80 L613.50,141.22 L613.53,141.47 L613.56,141.71 L613.59,141.96 L613.62,142.21 L613.65,142.46 L613.68,142.71 L613.71,142.96 L613.74,143.22 L613.77,143.47 L613.80,143.73 L613.83,143.98 L613.86,144.24 L613.89,144.49 L613.92,144.75 L613.95,145.01 L613.98,145.27 L614.01,145.53 L614.04,145.79 L614.07,146.05 L614.10,146.32 L614.13,146.58 L614.16,146.85 L614.19,147.11 L614.22,147.38 L614.25,147.65 L614.28,147.92 L614.31,148.19 L614.34,148.46 L614.37,148.73 L614.40,149.00 L614.43,149.27 L614.46,149.55 L614.49,149.82 L614.52,150.10 L614.56,150.38 L614.59,150.65 L614.62,150.93 L614.65,151.21 L614.68,151.49 L614.71,151.78 L614.74,152.06 L614.77,152.34 L614.80,152.63 L614.83,152.91 L614.86,153.20 L614.89,153.49 L614.92,153.78 L614.95,154.07 L614.98,154.36 L615.01,154.65 L615.04,154.94 L615.07,155.24 L615.10,155.53 L615.13,155.83 L615.16,156.13 L615.19,156.42 L615.22,156.72 L615.25,157.02 L615.28,157.32 L615.31,157.63 L615.34,157.93 L615.37,158.23 L615.40,158.54 L615.43,158.85 L615.46,159.15 L615.49,159.46 L615.52,159.77 L615.55,160.08 L615.58,160.39 L615.61,160.71 L615.64,161.02 L615.67,161.34 L615.70,161.65 L615.74,161.97 L615.77,162.29 L615.80,162.61 L615.83,162.93 L615.86,163.25 L615.89,163.57 L615.92,163.90 L615.95,164.22 L615.98,164.55 L616.01,164.88 L616.04,165.20 L616.07,165.53 L616.10,165.86 L616.13,166.20 L616.16,166.53 L616.19,166.86 L616.22,167.20 L616.25,167.54 L616.28,167.87 L616.31,168.21 L616.34,168.55 L616.37,168.90 L616.40,169.24 L616.43,169.58 L616.46,169.93 L616.49,170.27 L616.52,170.62 L616.55,170.97 L616.58,171.32 L616.61,171.67 L616.64,172.02 L616.67,172.38 L616.70,172.73 L616.73,173.09 L616.76,173.45 L616.79,173.81 L616.82,174.17 L616.85,174.53 L616.89,174.89 L616.92,175.25 L616.95,175.62 L616.98,175.99 L617.01,176.35 L617.04,176.72 L617.07,177.09 L617.10,177.47 L617.13,177.84 L617.16,178.21 L617.19,178.59 L617.22,178.97 L617.25,179.35 L617.28,179.73 L617.31,180.11 L617.34,180.49 L617.37,180.88 L617.40,181.26 L617.43,181.65 L617.46,182.04 L617.49,182.43 L617.52,182.82 L617.55,183.21 L617.58,183.60 L617.61,184.00 L617.64,184.40 L617.67,184.80 L617.70,185.20 L617.73,185.60 L617.76,186.00 L617.79,186.40 L617.82,186.81 L617.85,187.22 L617.88,187.63 L617.91,188.04 L617.94,188.45 L617.97,188.86 L618.00,189.28 L618.04,189.69 L618.07,190.11 L618.10,190.53 L618.13,190.95 L618.16,191.37 L618.19,191.80 L618.22,192.22 L618.25,192.65 L618.28,193.08 L618.31,193.51 L618.34,193.94 L618.37,194.38 L618.40,194.81 L618.43,195.25 L618.46,195.69 L618.49,196.13 L618.52,196.57 L618.55,197.01 L618.58,197.46 L618.61,197.90 L618.64,198.35 L618.67,198.80 L618.70,199.26 L618.73,199.71 L618.76,200.17 L618.79,200.62 L618.82,201.08 L618.85,201.54 L618.88,202.00 L618.91,202.47 L618.94,202.94 L618.97,203.40 L619.00,203.87 L619.03,204.34 L619.06,204.82 L619.09,205.29 L619.12,205.77 L619.15,206.25 L619.18,206.73 L619.22,207.21 L619.25,207.70 L619.28,208.18 L619.31,208.67 L619.34,209.16 L619.37,209.65 L619.40,210.15 L619.43,210.64 L619.46,211.14 L619.49,211.64 L619.52,212.14 L619.55,212.65 L619.58,213.15 L619.61,213.66 L619.64,214.17 L619.67,214.68 L619.70,215.19 L619.73,215.71 L619.76,216.23 L619.79,216.75 L619.82,217.27 L619.85,217.79 L619.88,218.32 L619.91,218.85 L619.94,219.38 L619.97,219.91 L620.00,220.45 L620.03,220.99 L620.06,221.52 L620.09,222.07 L620.12,222.61 L620.15,223.16 L620.18,223.70 L620.21,224.25 L620.24,224.81 L620.27,225.36 L620.30,225.92 L620.33,226.48 L620.37,227.04 L620.40,227.61 L620.43,228.17 L620.46,228.74 L620.49,229.31 L620.52,229.89 L620.55,230.46 L620.58,231.04 L620.61,231.62 L620.64,232.21 L620.67,232.80 L620.70,233.38 L620.73,233.98 L620.76,234.57 L620.79,235.17 L620.82,235.76 L620.85,236.37 L620.88,236.97 L620.91,237.58 L620.94,238.19 L620.97,238.80 L621.00,239.42 L621.03,240.03 L621.06,240.65 L621.09,241.28 L621.12,241.90 L621.15,242.53 L621.18,243.16 L621.21,243.80 L621.24,244.44 L621.27,245.08 L621.30,245.72 L621.33,246.36 L621.36,247.01 L621.39,247.67 L621.42,248.32 L621.45,248.98 L621.48,249.64 L621.51,250.30 L621.55,250.97 L621.58,251.64 L621.61,252.32 L621.64,252.99 L621.67,253.67 L621.70,254.36 L621.73,255.04 L621.76,255.73 L621.79,256.43 L621.82,257.12 L621.85,257.82 L621.88,258.53 L621.91,259.23 L621.94,259.94 L621.97,260.66 L622.00,261.37 L622.03,262.09 L622.06,262.82 L622.09,263.55 L622.12,264.28 L622.15,265.01 L622.18,265.75 L622.21,266.50 L622.24,267.24 L622.27,267.99 L622.30,268.75 L622.33,269.51 L622.36,270.27 L622.39,271.04 L622.42,271.81 L622.45,272.58 L622.48,273.36 L622.51,274.14 L622.54,274.93 L622.57,275.72 L622.60,276.52 L622.63,277.32 L622.66,278.12 L622.70,278.93 L622.73,279.75 L622.76,280.56 L622.79,281.39 L622.82,282.22 L622.85,283.05 L622.88,283.89 L622.91,284.73 L622.94,285.57 L622.97,286.43 L623.00,287.28 L623.03,288.15 L623.06,289.01 L623.09,289.89 L623.12,290.76 L623.15,291.65 L623.18,292.54 L623.21,293.43 L623.24,294.33 L623.27,295.24 L623.30,296.15 L623.33,297.07 L623.36,297.99 L623.39,298.92 L623.42,299.86 L623.45,300.80 L623.48,301.75 L623.51,302.70 L623.54,303.66 L623.57,304.63 L623.60,305.61 L623.63,306.59 L623.66,307.58 L623.69,308.58 L623.72,309.58 L623.75,310.59 L623.78,311.61 L623.81,312.64 L623.84,313.67 L623.88,314.71 L623.91,315.76 L623.94,316.82 L623.97,317.89 L624.00,318.97 L624.03,320.05 L624.06,321.15 L624.09,322.25 L624.12,323.36 L624.15,324.49 L624.18,325.62 L624.21,326.76 L624.24,327.92 L624.27,329.08 L624.30,330.26 L624.33,331.44 L624.36,332.64 L624.39,333.85 L624.42,335.08 L624.45,336.31 L624.48,337.56 L624.51,338.83 L624.54,340.10 L624.57,341.39 L624.60,342.70 L624.63,344.02 L624.66,345.36 L624.69,346.72 L624.72,348.09 L624.75,349.48 L624.78,350.89 L624.81,352.32 L624.84,353.77 L624.87,355.25 L624.90,356.74 L624.93,358.26 L624.96,359.81 L624.99,361.38 L625.03,362.99 L625.06,364.62 L625.09,366.29 L625.12,367.99 L625.15,369.73 L625.18,371.51 L625.21,373.34 L625.24,375.21 L625.27,377.14 L625.30,379.13 L625.33,381.20 L625.36,383.34 L625.39,385.57 L625.42,387.91 L625.45,390.39 L625.48,393.04 L625.51,395.92 L625.54,399.14 L625.57,402.95 L625.60,409.30" fill="none" stroke="#ff0000" stroke-width="2.15" stroke-dasharray="5.9 2.07"/>
<path d="M20.40,246.30 L23.43,246.30 L26.45,246.30 L29.48,246.30 L32.50,246.29 L35.53,246.29 L38.56,246.29 L41.58,246.28 L44.61,246.28 L47.63,246.27 L50.66,246.26 L53.69,246.26 L56.71,246.25 L59.74,246.24 L62.76,246.23 L65.79,246.22 L68.82,246.21 L71.84,246.20 L74.87,246.19 L77.89,246.18 L80.92,246.16 L83.95,246.15 L86.97,246.13 L90.00,246.11 L93.02,246.09 L96.05,246.07 L99.08,246.05 L102.10,246.02 L105.13,246.00 L108.15,245.97 L111.18,245.94 L114.21,245.90 L117.23,245.86 L120.26,245.83 L123.28,245.78 L126.31,245.74 L129.34,245.69 L132.36,245.64 L135.39,245.59 L138.41,245.53 L141.44,245.47 L144.47,245.41 L147.49,245.34 L150.52,245.27 L153.54,245.20 L156.57,245.12 L159.60,245.04 L162.62,244.95 L165.65,244.87 L168.67,244.77 L171.70,244.68 L174.73,244.57 L177.75,244.47 L180.78,244.36 L183.80,244.25 L186.83,244.13 L189.86,244.00 L192.88,243.88 L195.91,243.75 L198.93,243.61 L201.96,243.47 L204.99,243.32 L208.01,243.17 L211.04,243.02 L214.06,242.86 L217.09,242.69 L220.12,242.52 L223.14,242.35 L226.17,242.17 L229.19,241.98 L232.22,241.79 L235.25,241.60 L238.27,241.40 L241.30,241.19 L244.32,240.98 L247.35,240.76 L250.38,240.54 L253.40,240.31 L256.43,240.08 L259.45,239.84 L262.48,239.59 L265.51,239.34 L268.53,239.08 L271.56,238.82 L274.58,238.55 L277.61,238.27 L280.64,237.98 L283.66,237.69 L286.69,237.40 L289.71,237.09 L292.74,236.78 L295.77,236.46 L298.79,236.14 L301.82,235.80 L304.84,235.46 L307.87,235.11 L310.90,234.75 L313.92,234.39 L316.95,234.01 L319.97,233.63 L323.00,233.24 L326.03,232.84 L329.05,232.43 L332.08,232.01 L335.10,231.58 L338.13,231.14 L341.16,230.69 L344.18,230.23 L347.21,229.76 L350.23,229.28 L353.26,228.79 L356.29,228.29 L359.31,227.78 L362.34,227.25 L365.36,226.71 L368.39,226.16 L371.42,225.60 L374.44,225.03 L377.47,224.44 L380.49,223.85 L383.52,223.24 L386.55,222.61 L389.57,221.97 L392.60,221.32 L395.62,220.66 L398.65,219.98 L401.68,219.29 L404.70,218.58 L407.73,217.86 L410.75,217.13 L413.78,216.39 L416.81,215.62 L419.83,214.85 L422.86,214.06 L425.88,213.26 L428.91,212.44 L431.94,211.61 L434.96,210.77 L437.99,209.92 L441.01,209.05 L444.04,208.16 L447.07,207.27 L450.09,206.37 L453.12,205.45 L456.14,204.52 L459.17,203.58 L462.20,202.63 L465.22,201.67 L468.25,200.71 L471.27,199.73 L474.30,198.75 L477.33,197.76 L480.35,196.77 L483.38,195.77 L486.40,194.77 L489.43,193.77 L492.46,192.76 L495.48,191.76 L498.51,190.76 L501.53,189.77 L504.56,188.78 L507.59,187.81 L510.61,186.84 L513.64,185.89 L516.66,184.95 L519.69,184.04 L522.72,183.15 L525.74,182.29 L528.77,181.46 L531.79,180.67 L534.82,179.92 L537.85,179.23 L540.87,178.60 L543.90,178.03 L546.92,177.55 L549.95,177.16 L552.98,176.88 L556.00,176.72 L559.03,176.71 L562.05,176.87 L565.08,177.23 L565.38,177.28 L565.69,177.33 L565.99,177.39 L566.29,177.44 L566.59,177.50 L566.90,177.56 L567.20,177.62 L567.50,177.69 L567.80,177.76 L568.11,177.83 L568.41,177.91 L568.71,177.98 L569.01,178.06 L569.32,178.14 L569.62,178.23 L569.92,178.32 L570.22,178.41 L570.53,178.50 L570.83,178.60 L571.13,178.70 L571.43,178.81 L571.74,178.92 L572.04,179.03 L572.34,179.14 L572.64,179.26 L572.95,179.38 L573.25,179.50 L573.55,179.63 L573.86,179.76 L574.16,179.90 L574.46,180.04 L574.76,180.18 L575.07,180.33 L575.37,180.48 L575.67,180.64 L575.97,180.80 L576.28,180.96 L576.58,181.13 L576.88,181.30 L577.18,181.48 L577.49,181.66 L577.79,181.85 L578.09,182.04 L578.39,182.23 L578.70,182.43 L579.00,182.64 L579.30,182.85 L579.60,183.06 L579.91,183.28 L580.21,183.51 L580.51,183.74 L580.82,183.98 L581.12,184.22 L581.42,184.47 L581.72,184.72 L582.03,184.98 L582.33,185.24 L582.63,185.51 L582.93,185.79 L583.24,186.07 L583.54,186.36 L583.84,186.66 L584.14,186.96 L584.45,187.27 L584.75,187.58 L585.05,187.91 L585.35,188.23 L585.66,188.57 L585.96,188.91 L586.26,189.26 L586.56,189.62 L586.87,189.99 L587.17,190.36 L587.47,190.74 L587.77,191.13 L588.08,191.53 L588.38,191.94 L588.68,192.35 L588.99,192.77 L589.29,193.20 L589.59,193.64 L589.89,194.09 L590.20,194.55 L590.50,195.02 L590.80,195.50 L591.10,195.98 L591.41,196.48 L591.71,196.98 L592.01,197.50 L592.31,198.03 L592.62,198.57 L592.92,199.11 L593.22,199.67 L593.52,200.24 L593.83,200.82 L594.13,201.42 L594.43,202.02 L594.73,202.64 L595.04,203.26 L595.34,203.90 L595.64,204.56 L595.95,205.22 L596.25,205.90 L596.55,206.59 L596.85,207.30 L597.16,208.02 L597.46,208.75 L597.76,209.50 L598.06,210.26 L598.37,211.03 L598.67,211.82 L598.97,212.63 L599.27,213.45 L599.58,214.29 L599.88,215.14 L600.18,216.01 L600.48,216.89 L600.79,217.80 L601.09,218.72 L601.39,219.65 L601.69,220.61 L602.00,221.58 L602.30,222.57 L602.60,223.58 L602.91,224.61 L603.21,225.66 L603.51,226.73 L603.81,227.82 L604.12,228.93 L604.42,230.06 L604.72,231.21 L605.02,232.38 L605.33,233.58 L605.63,234.80 L605.93,236.04 L606.23,237.31 L606.54,238.59 L606.84,239.91 L607.14,241.25 L607.44,242.61 L607.75,244.00 L608.05,245.41 L608.35,246.86 L608.65,248.33 L608.96,249.82 L609.26,251.35 L609.56,252.91 L609.86,254.49 L610.17,256.10 L610.47,257.75 L610.77,259.43 L611.08,261.14 L611.38,262.88 L611.68,264.66 L611.98,266.47 L612.29,268.31 L612.59,270.19 L612.89,272.11 L613.19,274.06 L613.50,276.06 L613.53,276.26 L613.56,276.46 L613.59,276.66 L613.62,276.86 L613.65,277.07 L613.68,277.27 L613.71,277.47 L613.74,277.68 L613.77,277.88 L613.80,278.09 L613.83,278.29 L613.86,278.50 L613.89,278.70 L613.92,278.91 L613.95,279.12 L613.98,279.33 L614.01,279.53 L614.04,279.74 L614.07,279.95 L614.10,280.16 L614.13,280.37 L614.16,280.58 L614.19,280.79 L614.22,281.00 L614.25,281.21 L614.28,281.42 L614.31,281.63 L614.34,281.85 L614.37,282.06 L614.40,282.27 L614.43,282.49 L614.46,282.70 L614.49,282.91 L614.52,283.13 L614.56,283.34 L614.59,283.56 L614.62,283.78 L614.65,283.99 L614.68,284.21 L614.71,284.43 L614.74,284.64 L614.77,284.86 L614.80,285.08 L614.83,285.30 L614.86,285.52 L614.89,285.74 L614.92,285.96 L614.95,286.18 L614.98,286.40 L615.01,286.62 L615.04,286.85 L615.07,287.07 L615.10,287.29 L615.13,287.51 L615.16,287.74 L615.19,287.96 L615.22,288.19 L615.25,288.41 L615.28,288.64 L615.31,288.86 L615.34,289.09 L615.37,289.32 L615.40,289.55 L615.43,289.77 L615.46,290.00 L615.49,290.23 L615.52,290.46 L615.55,290.69 L615.58,290.92 L615.61,291.15 L615.64,291.38 L615.67,291.61 L615.70,291.84 L615.74,292.08 L615.77,292.31 L615.80,292.54 L615.83,292.78 L615.86,293.01 L615.89,293.25 L615.92,293.48 L615.95,293.72 L615.98,293.95 L616.01,294.19 L616.04,294.43 L616.07,294.67 L616.10,294.90 L616.13,295.14 L616.16,295.38 L616.19,295.62 L616.22,295.86 L616.25,296.10 L616.28,296.34 L616.31,296.58 L616.34,296.83 L616.37,297.07 L616.40,297.31 L616.43,297.56 L616.46,297.80 L616.49,298.04 L616.52,298.29 L616.55,298.54 L616.58,298.78 L616.61,299.03 L616.64,299.27 L616.67,299.52 L616.70,299.77 L616.73,300.02 L616.76,300.27 L616.79,300.52 L616.82,300.77 L616.85,301.02 L616.89,301.27 L616.92,301.52 L616.95,301.77 L616.98,302.03 L617.01,302.28 L617.04,302.53 L617.07,302.79 L617.10,303.04 L617.13,303.30 L617.16,303.55 L617.19,303.81 L617.22,304.07 L617.25,304.32 L617.28,304.58 L617.31,304.84 L617.34,305.10 L617.37,305.36 L617.40,305.62 L617.43,305.88 L617.46,306.14 L617.49,306.40 L617.52,306.66 L617.55,306.93 L617.58,307.19 L617.61,307.45 L617.64,307.72 L617.67,307.98 L617.70,308.25 L617.73,308.51 L617.76,308.78 L617.79,309.05 L617.82,309.32 L617.85,309.58 L617.88,309.85 L617.91,310.12 L617.94,310.39 L617.97,310.66 L618.00,310.93 L618.04,311.21 L618.07,311.48 L618.10,311.75 L618.13,312.02 L618.16,312.30 L618.19,312.57 L618.22,312.85 L618.25,313.12 L618.28,313.40 L618.31,313.68 L618.34,313.96 L618.37,314.23 L618.40,314.51 L618.43,314.79 L618.46,315.07 L618.49,315.35 L618.52,315.63 L618.55,315.92 L618.58,316.20 L618.61,316.48 L618.64,316.76 L618.67,317.05 L618.70,317.33 L618.73,317.62 L618.76,317.91 L618.79,318.19 L618.82,318.48 L618.85,318.77 L618.88,319.06 L618.91,319.34 L618.94,319.63 L618.97,319.93 L619.00,320.22 L619.03,320.51 L619.06,320.80 L619.09,321.09 L619.12,321.39 L619.15,321.68 L619.18,321.98 L619.22,322.27 L619.25,322.57 L619.28,322.87 L619.31,323.16 L619.34,323.46 L619.37,323.76 L619.40,324.06 L619.43,324.36 L619.46,324.66 L619.49,324.96 L619.52,325.26 L619.55,325.57 L619.58,325.87 L619.61,326.18 L619.64,326.48 L619.67,326.79 L619.70,327.09 L619.73,327.40 L619.76,327.71 L619.79,328.02 L619.82,328.33 L619.85,328.64 L619.88,328.95 L619.91,329.26 L619.94,329.57 L619.97,329.88 L620.00,330.20 L620.03,330.51 L620.06,330.82 L620.09,331.14 L620.12,331.46 L620.15,331.77 L620.18,332.09 L620.21,332.41 L620.24,332.73 L620.27,333.05 L620.30,333.37 L620.33,333.69 L620.37,334.01 L620.40,334.34 L620.43,334.66 L620.46,334.99 L620.49,335.31 L620.52,335.64 L620.55,335.96 L620.58,336.29 L620.61,336.62 L620.64,336.95 L620.67,337.28 L620.70,337.61 L620.73,337.94 L620.76,338.27 L620.79,338.61 L620.82,338.94 L620.85,339.28 L620.88,339.61 L620.91,339.95 L620.94,340.29 L620.97,340.63 L621.00,340.96 L621.03,341.30 L621.06,341.64 L621.09,341.99 L621.12,342.33 L621.15,342.67 L621.18,343.02 L621.21,343.36 L621.24,343.71 L621.27,344.05 L621.30,344.40 L621.33,344.75 L621.36,345.10 L621.39,345.45 L621.42,345.80 L621.45,346.15 L621.48,346.50 L621.51,346.86 L621.55,347.21 L621.58,347.57 L621.61,347.93 L621.64,348.28 L621.67,348.64 L621.70,349.00 L621.73,349.36 L621.76,349.72 L621.79,350.08 L621.82,350.45 L621.85,350.81 L621.88,351.18 L621.91,351.54 L621.94,351.91 L621.97,352.28 L622.00,352.65 L622.03,353.02 L622.06,353.39 L622.09,353.76 L622.12,354.13 L622.15,354.51 L622.18,354.88 L622.21,355.26 L622.24,355.64 L622.27,356.02 L622.30,356.40 L622.33,356.78 L622.36,357.16 L622.39,357.54 L622.42,357.92 L622.45,358.31 L622.48,358.69 L622.51,359.08 L622.54,359.47 L622.57,359.86 L622.60,360.25 L622.63,360.64 L622.66,361.03 L622.70,361.43 L622.73,361.82 L622.76,362.22 L622.79,362.62 L622.82,363.02 L622.85,363.42 L622.88,363.82 L622.91,364.22 L622.94,364.62 L622.97,365.03 L623.00,365.44 L623.03,365.84 L623.06,366.25 L623.09,366.66 L623.12,367.07 L623.15,367.49 L623.18,367.90 L623.21,368.32 L623.24,368.73 L623.27,369.15 L623.30,369.57 L623.33,369.99 L623.36,370.42 L623.39,370.84 L623.42,371.27 L623.45,371.69 L623.48,372.12 L623.51,372.55 L623.54,372.98 L623.57,373.42 L623.60,373.85 L623.63,374.29 L623.66,374.73 L623.69,375.17 L623.72,375.61 L623.75,376.05 L623.78,376.50 L623.81,376.94 L623.84,377.39 L623.88,377.84 L623.91,378.29 L623.94,378.75 L623.97,379.20 L624.00,379.66 L624.03,380.12 L624.06,380.58 L624.09,381.04 L624.12,381.51 L624.15,381.98 L624.18,382.45 L624.21,382.92 L624.24,383.39 L624.27,383.87 L624.30,384.35 L624.33,384.83 L624.36,385.31 L624.39,385.80 L624.42,386.28 L624.45,386.78 L624.48,387.27 L624.51,387.76 L624.54,388.26 L624.57,388.76 L624.60,389.27 L624.63,389.78 L624.66,390.29 L624.69,390.80 L624.72,391.32 L624.75,391.84 L624.78,392.36 L624.81,392.89 L624.84,393.42 L624.87,393.95 L624.90,394.49 L624.93,395.03 L624.96,395.58 L624.99,396.13 L625.03,396.69 L625.06,397.25 L625.09,397.82 L625.12,398.39 L625.15,398.97 L625.18,399.56 L625.21,400.15 L625.24,400.75 L625.27,401.36 L625.30,401.97 L625.33,402.60 L625.36,403.24 L625.39,403.89 L625.42,404.55 L625.45,405.24 L625.48,405.94 L625.51,406.67 L625.54,407.44 L625.57,408.27 L625.60,409.30" fill="none" stroke="#ff0000" stroke-width="2.15" stroke-dasharray="5.9 2.07"/>
<path d="M20.40,246.30 L23.43,246.30 L26.45,246.30 L29.48,246.31 L32.50,246.31 L35.53,246.32 L38.56,246.32 L41.58,246.33 L44.61,246.34 L47.63,246.35 L50.66,246.36 L53.69,246.37 L56.71,246.38 L59.74,246.39 L62.76,246.40 L65.79,246.41 L68.82,246.42 L71.84,246.43 L74.87,246.44 L77.89,246.46 L80.92,246.47 L83.95,246.49 L86.97,246.51 L90.00,246.53 L93.02,246.55 L96.05,246.57 L99.08,246.60 L102.10,246.62 L105.13,246.65 L108.15,246.69 L111.18,246.72 L114.21,246.76 L117.23,246.80 L120.26,246.85 L123.28,246.90 L126.31,246.95 L129.34,247.00 L132.36,247.07 L135.39,247.13 L138.41,247.20 L141.44,247.27 L144.47,247.35 L147.49,247.44 L150.52,247.53 L153.54,247.62 L156.57,247.72 L159.60,247.83 L162.62,247.94 L165.65,248.06 L168.67,248.19 L171.70,248.32 L174.73,248.46 L177.75,248.60 L180.78,248.75 L183.80,248.91 L186.83,249.08 L189.86,249.25 L192.88,249.43 L195.91,249.62 L198.93,249.81 L201.96,250.01 L204.99,250.22 L208.01,250.44 L211.04,250.67 L214.06,250.90 L217.09,251.14 L220.12,251.39 L223.14,251.65 L226.17,251.91 L229.19,252.18 L232.22,252.46 L235.25,252.75 L238.27,253.05 L241.30,253.36 L244.32,253.67 L247.35,253.99 L250.38,254.33 L253.40,254.66 L256.43,255.01 L259.45,255.37 L262.48,255.73 L265.51,256.11 L268.53,256.49 L271.56,256.88 L274.58,257.28 L277.61,257.69 L280.64,258.10 L283.66,258.53 L286.69,258.96 L289.71,259.41 L292.74,259.86 L295.77,260.32 L298.79,260.79 L301.82,261.27 L304.84,261.75 L307.87,262.25 L310.90,262.76 L313.92,263.27 L316.95,263.80 L319.97,264.33 L323.00,264.88 L326.03,265.43 L329.05,265.99 L332.08,266.57 L335.10,267.15 L338.13,267.75 L341.16,268.35 L344.18,268.97 L347.21,269.59 L350.23,270.23 L353.26,270.88 L356.29,271.53 L359.31,272.21 L362.34,272.89 L365.36,273.58 L368.39,274.29 L371.42,275.01 L374.44,275.74 L377.47,276.48 L380.49,277.24 L383.52,278.01 L386.55,278.79 L389.57,279.59 L392.60,280.41 L395.62,281.23 L398.65,282.08 L401.68,282.94 L404.70,283.81 L407.73,284.70 L410.75,285.61 L413.78,286.53 L416.81,287.47 L419.83,288.43 L422.86,289.41 L425.88,290.40 L428.91,291.42 L431.94,292.45 L434.96,293.50 L437.99,294.58 L441.01,295.67 L444.04,296.79 L447.07,297.92 L450.09,299.08 L453.12,300.26 L456.14,301.47 L459.17,302.69 L462.20,303.94 L465.22,305.22 L468.25,306.51 L471.27,307.84 L474.30,309.18 L477.33,310.56 L480.35,311.95 L483.38,313.38 L486.40,314.82 L489.43,316.30 L492.46,317.80 L495.48,319.32 L498.51,320.88 L501.53,322.46 L504.56,324.06 L507.59,325.69 L510.61,327.35 L513.64,329.03 L516.66,330.74 L519.69,332.48 L522.72,334.24 L525.74,336.02 L528.77,337.83 L531.79,339.66 L534.82,341.52 L537.85,343.40 L540.87,345.30 L543.90,347.23 L546.92,349.17 L549.95,351.14 L552.98,353.13 L556.00,355.13 L559.03,357.16 L562.05,359.21 L565.08,361.27 L565.38,361.48 L565.69,361.69 L565.99,361.90 L566.29,362.10 L566.59,362.31 L566.90,362.52 L567.20,362.73 L567.50,362.94 L567.80,363.15 L568.11,363.36 L568.41,363.57 L568.71,363.78 L569.01,363.99 L569.32,364.20 L569.62,364.41 L569.92,364.62 L570.22,364.83 L570.53,365.04 L570.83,365.25 L571.13,365.46 L571.43,365.67 L571.74,365.88 L572.04,366.09 L572.34,366.31 L572.64,366.52 L572.95,366.73 L573.25,366.94 L573.55,367.16 L573.86,367.37 L574.16,367.58 L574.46,367.79 L574.76,368.01 L575.07,368.22 L575.37,368.44 L575.67,368.65 L575.97,368.86 L576.28,369.08 L576.58,369.29 L576.88,369.51 L577.18,369.72 L577.49,369.94 L577.79,370.15 L578.09,370.37 L578.39,370.59 L578.70,370.80 L579.00,371.02 L579.30,371.23 L579.60,371.45 L579.91,371.67 L580.21,371.89 L580.51,372.10 L580.82,372.32 L581.12,372.54 L581.42,372.76 L581.72,372.97 L582.03,373.19 L582.33,373.41 L582.63,373.63 L582.93,373.85 L583.24,374.07 L583.54,374.29 L583.84,374.51 L584.14,374.73 L584.45,374.95 L584.75,375.17 L585.05,375.39 L585.35,375.61 L585.66,375.83 L585.96,376.05 L586.26,376.28 L586.56,376.50 L586.87,376.72 L587.17,376.94 L587.47,377.17 L587.77,377.39 L588.08,377.61 L588.38,377.84 L588.68,378.06 L588.99,378.28 L589.29,378.51 L589.59,378.73 L589.89,378.96 L590.20,379.18 L590.50,379.41 L590.80,379.63 L591.10,379.86 L591.41,380.09 L591.71,380.31 L592.01,380.54 L592.31,380.77 L592.62,381.00 L592.92,381.22 L593.22,381.45 L593.52,381.68 L593.83,381.91 L594.13,382.14 L594.43,382.37 L594.73,382.60 L595.04,382.83 L595.34,383.06 L595.64,383.29 L595.95,383.52 L596.25,383.75 L596.55,383.99 L596.85,384.22 L597.16,384.45 L597.46,384.68 L597.76,384.92 L598.06,385.15 L598.37,385.39 L598.67,385.62 L598.97,385.86 L599.27,386.09 L599.58,386.33 L599.88,386.57 L600.18,386.80 L600.48,387.04 L600.79,387.28 L601.09,387.52 L601.39,387.75 L601.69,387.99 L602.00,388.23 L602.30,388.47 L602.60,388.71 L602.91,388.96 L603.21,389.20 L603.51,389.44 L603.81,389.68 L604.12,389.93 L604.42,390.17 L604.72,390.41 L605.02,390.66 L605.33,390.90 L605.63,391.15 L605.93,391.40 L606.23,391.64 L606.54,391.89 L606.84,392.14 L607.14,392.39 L607.44,392.64 L607.75,392.89 L608.05,393.14 L608.35,393.39 L608.65,393.64 L608.96,393.90 L609.26,394.15 L609.56,394.40 L609.86,394.66 L610.17,394.91 L610.47,395.17 L610.77,395.43 L611.08,395.69 L611.38,395.94 L611.68,396.20 L611.98,396.46 L612.29,396.73 L612.59,396.99 L612.89,397.25 L613.19,397.51 L613.50,397.78 L613.53,397.80 L613.56,397.83 L613.59,397.86 L613.62,397.88 L613.65,397.91 L613.68,397.94 L613.71,397.96 L613.74,397.99 L613.77,398.02 L613.80,398.04 L613.83,398.07 L613.86,398.10 L613.89,398.12 L613.92,398.15 L613.95,398.18 L613.98,398.20 L614.01,398.23 L614.04,398.26 L614.07,398.28 L614.10,398.31 L614.13,398.34 L614.16,398.36 L614.19,398.39 L614.22,398.42 L614.25,398.44 L614.28,398.47 L614.31,398.50 L614.34,398.52 L614.37,398.55 L614.40,398.58 L614.43,398.60 L614.46,398.63 L614.49,398.66 L614.52,398.68 L614.56,398.71 L614.59,398.74 L614.62,398.76 L614.65,398.79 L614.68,398.82 L614.71,398.84 L614.74,398.87 L614.77,398.90 L614.80,398.92 L614.83,398.95 L614.86,398.98 L614.89,399.01 L614.92,399.03 L614.95,399.06 L614.98,399.09 L615.01,399.11 L615.04,399.14 L615.07,399.17 L615.10,399.19 L615.13,399.22 L615.16,399.25 L615.19,399.27 L615.22,399.30 L615.25,399.33 L615.28,399.36 L615.31,399.38 L615.34,399.41 L615.37,399.44 L615.40,399.46 L615.43,399.49 L615.46,399.52 L615.49,399.54 L615.52,399.57 L615.55,399.60 L615.58,399.63 L615.61,399.65 L615.64,399.68 L615.67,399.71 L615.70,399.73 L615.74,399.76 L615.77,399.79 L615.80,399.82 L615.83,399.84 L615.86,399.87 L615.89,399.90 L615.92,399.93 L615.95,399.95 L615.98,399.98 L616.01,400.01 L616.04,400.03 L616.07,400.06 L616.10,400.09 L616.13,400.12 L616.16,400.14 L616.19,400.17 L616.22,400.20 L616.25,400.23 L616.28,400.25 L616.31,400.28 L616.34,400.31 L616.37,400.33 L616.40,400.36 L616.43,400.39 L616.46,400.42 L616.49,400.44 L616.52,400.47 L616.55,400.50 L616.58,400.53 L616.61,400.55 L616.64,400.58 L616.67,400.61 L616.70,400.64 L616.73,400.66 L616.76,400.69 L616.79,400.72 L616.82,400.75 L616.85,400.77 L616.89,400.80 L616.92,400.83 L616.95,400.86 L616.98,400.88 L617.01,400.91 L617.04,400.94 L617.07,400.97 L617.10,400.99 L617.13,401.02 L617.16,401.05 L617.19,401.08 L617.22,401.11 L617.25,401.13 L617.28,401.16 L617.31,401.19 L617.34,401.22 L617.37,401.24 L617.40,401.27 L617.43,401.30 L617.46,401.33 L617.49,401.36 L617.52,401.38 L617.55,401.41 L617.58,401.44 L617.61,401.47 L617.64,401.49 L617.67,401.52 L617.70,401.55 L617.73,401.58 L617.76,401.61 L617.79,401.63 L617.82,401.66 L617.85,401.69 L617.88,401.72 L617.91,401.75 L617.94,401.77 L617.97,401.80 L618.00,401.83 L618.04,401.86 L618.07,401.88 L618.10,401.91 L618.13,401.94 L618.16,401.97 L618.19,402.00 L618.22,402.02 L618.25,402.05 L618.28,402.08 L618.31,402.11 L618.34,402.14 L618.37,402.17 L618.40,402.19 L618.43,402.22 L618.46,402.25 L618.49,402.28 L618.52,402.31 L618.55,402.33 L618.58,402.36 L618.61,402.39 L618.64,402.42 L618.67,402.45 L618.70,402.48 L618.73,402.50 L618.76,402.53 L618.79,402.56 L618.82,402.59 L618.85,402.62 L618.88,402.64 L618.91,402.67 L618.94,402.70 L618.97,402.73 L619.00,402.76 L619.03,402.79 L619.06,402.81 L619.09,402.84 L619.12,402.87 L619.15,402.90 L619.18,402.93 L619.22,402.96 L619.25,402.99 L619.28,403.01 L619.31,403.04 L619.34,403.07 L619.37,403.10 L619.40,403.13 L619.43,403.16 L619.46,403.18 L619.49,403.21 L619.52,403.24 L619.55,403.27 L619.58,403.30 L619.61,403.33 L619.64,403.36 L619.67,403.38 L619.70,403.41 L619.73,403.44 L619.76,403.47 L619.79,403.50 L619.82,403.53 L619.85,403.56 L619.88,403.59 L619.91,403.61 L619.94,403.64 L619.97,403.67 L620.00,403.70 L620.03,403.73 L620.06,403.76 L620.09,403.79 L620.12,403.82 L620.15,403.84 L620.18,403.87 L620.21,403.90 L620.24,403.93 L620.27,403.96 L620.30,403.99 L620.33,404.02 L620.37,404.05 L620.40,404.08 L620.43,404.10 L620.46,404.13 L620.49,404.16 L620.52,404.19 L620.55,404.22 L620.58,404.25 L620.61,404.28 L620.64,404.31 L620.67,404.34 L620.70,404.37 L620.73,404.39 L620.76,404.42 L620.79,404.45 L620.82,404.48 L620.85,404.51 L620.88,404.54 L620.91,404.57 L620.94,404.60 L620.97,404.63 L621.00,404.66 L621.03,404.69 L621.06,404.72 L621.09,404.74 L621.12,404.77 L621.15,404.80 L621.18,404.83 L621.21,404.86 L621.24,404.89 L621.27,404.92 L621.30,404.95 L621.33,404.98 L621.36,405.01 L621.39,405.04 L621.42,405.07 L621.45,405.10 L621.48,405.13 L621.51,405.16 L621.55,405.19 L621.58,405.21 L621.61,405.24 L621.64,405.27 L621.67,405.30 L621.70,405.33 L621.73,405.36 L621.76,405.39 L621.79,405.42 L621.82,405.45 L621.85,405.48 L621.88,405.51 L621.91,405.54 L621.94,405.57 L621.97,405.60 L622.00,405.63 L622.03,405.66 L622.06,405.69 L622.09,405.72 L622.12,405.75 L622.15,405.78 L622.18,405.81 L622.21,405.84 L622.24,405.87 L622.27,405.90 L622.30,405.93 L622.33,405.96 L622.36,405.99 L622.39,406.02 L622.42,406.05 L622.45,406.08 L622.48,406.11 L622.51,406.14 L622.54,406.17 L622.57,406.20 L622.60,406.23 L622.63,406.26 L622.66,406.29 L622.70,406.32 L622.73,406.35 L622.76,406.38 L622.79,406.41 L622.82,406.44 L622.85,406.47 L622.88,406.50 L622.91,406.53 L622.94,406.56 L622.97,406.59 L623.00,406.62 L623.03,406.65 L623.06,406.68 L623.09,406.71 L623.12,406.74 L623.15,406.77 L623.18,406.80 L623.21,406.83 L623.24,406.86 L623.27,406.89 L623.30,406.92 L623.33,406.95 L623.36,406.98 L623.39,407.01 L623.42,407.04 L623.45,407.07 L623.48,407.10 L623.51,407.13 L623.54,407.16 L623.57,407.19 L623.60,407.23 L623.63,407.26 L623.66,407.29 L623.69,407.32 L623.72,407.35 L623.75,407.38 L623.78,407.41 L623.81,407.44 L623.84,407.47 L623.88,407.50 L623.91,407.53 L623.94,407.56 L623.97,407.59 L624.00,407.62 L624.03,407.66 L624.06,407.69 L624.09,407.72 L624.12,407.75 L624.15,407.78 L624.18,407.81 L624.21,407.84 L624.24,407.87 L624.27,407.90 L624.30,407.93 L624.33,407.97 L624.36,408.00 L624.39,408.03 L624.42,408.06 L624.45,408.09 L624.48,408.12 L624.51,408.15 L624.54,408.18 L624.57,408.21 L624.60,408.25 L624.63,408.28 L624.66,408.31 L624.69,408.34 L624.72,408.37 L624.75,408.40 L624.78,408.43 L624.81,408.47 L624.84,408.50 L624.87,408.53 L624.90,408.56 L624.93,408.59 L624.96,408.62 L624.99,408.66 L625.03,408.69 L625.06,408.72 L625.09,408.75 L625.12,408.78 L625.15,408.81 L625.18,408.85 L625.21,408.88 L625.24,408.91 L625.27,408.94 L625.30,408.97 L625.33,409.01 L625.36,409.04 L625.39,409.07 L625.42,409.10 L625.45,409.14 L625.48,409.17 L625.51,409.20 L625.54,409.23 L625.57,409.27 L625.60,409.30" fill="none" stroke="#ff0000" stroke-width="2.15" stroke-dasharray="5.9 2.07"/>
<rect x="19.4" y="245.2" width="1.2" height="2.3" fill="#ff0000"/>
<rect x="624.6" y="408.8" width="2.0" height="1.7" fill="#ff0000"/>
<path d="M20.4,246.4 H625.9" stroke="#000" stroke-width="0.68" fill="none"/>
<g font-size="14.5px" opacity="0.99" text-rendering="geometricPrecision">
<text x="141.34" y="422.75" text-anchor="middle">0.2</text>
<text x="262.38" y="422.75" text-anchor="middle">0.4</text>
<text x="383.42" y="422.75" text-anchor="middle">0.6</text>
<text x="504.46" y="422.75" text-anchor="middle">0.8</text>
<text x="625.50" y="422.75" text-anchor="middle">1.0</text>
<text x="17.55" y="331.0" text-anchor="end">0.5</text>
<text x="17.55" y="249.8" text-anchor="end">1.0</text>
<text x="17.55" y="168.3" text-anchor="end">1.5</text>
<text x="17.55" y="87.25" text-anchor="end">2.0</text>
</g>
<g opacity="0.99" text-rendering="geometricPrecision" stroke="#000" stroke-width="0.25"><text x="11.8" y="18" font-size="16.5px" font-style="italic">U</text>
<text x="23.6" y="11.1" font-size="11.5px" stroke-width="0.12">0</text>
<text x="645.7" y="412.8" font-size="15.5px" font-style="italic">u</text></g>
</svg>
</body></html>
